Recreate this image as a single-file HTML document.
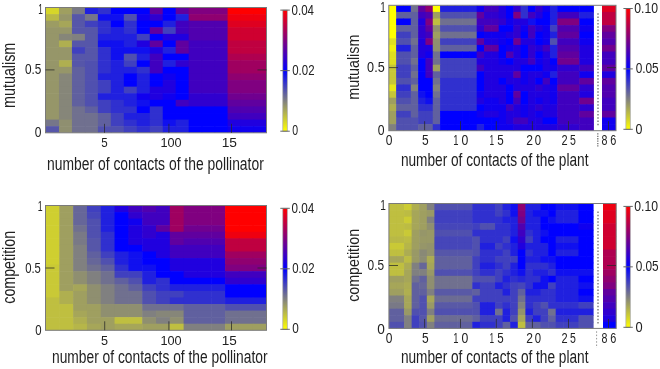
<!DOCTYPE html>
<html><head><meta charset="utf-8"><style>
html,body{margin:0;padding:0;background:#fff;width:660px;height:369px;overflow:hidden}
svg{display:block;will-change:transform}
text{font-family:"Liberation Sans",sans-serif}
</style></head><body>
<svg width="660" height="369" viewBox="0 0 660 369">
<defs><linearGradient id="cb" x1="0" y1="1" x2="0" y2="0">
<stop offset="0" stop-color="#ffff00"/><stop offset="0.5" stop-color="#0000ff"/><stop offset="1" stop-color="#ff0000"/>
</linearGradient></defs>
<rect width="660" height="369" fill="#fff"/>
<clipPath id="hc1"><rect x="46.00" y="7.50" width="220.50" height="125.30"/></clipPath><g clip-path="url(#hc1)">
<rect x="46.00" y="7.50" width="13.57" height="7.19" fill="#d6d629" />
<rect x="58.97" y="7.50" width="13.57" height="7.19" fill="#9f9f60" />
<rect x="71.94" y="7.50" width="13.57" height="7.19" fill="#797986" />
<rect x="84.91" y="7.50" width="13.57" height="7.19" fill="#2020df" />
<rect x="97.88" y="7.50" width="13.57" height="7.19" fill="#3030cf" />
<rect x="110.85" y="7.50" width="13.57" height="7.19" fill="#0000ff" />
<rect x="123.82" y="7.50" width="13.57" height="7.19" fill="#0000ff" />
<rect x="136.79" y="7.50" width="13.57" height="7.19" fill="#0000ff" />
<rect x="149.76" y="7.50" width="13.57" height="7.19" fill="#60009f" />
<rect x="162.74" y="7.50" width="13.57" height="7.19" fill="#0000ff" />
<rect x="175.71" y="7.50" width="13.57" height="7.19" fill="#60009f" />
<rect x="188.68" y="7.50" width="13.57" height="7.19" fill="#800080" />
<rect x="201.65" y="7.50" width="13.57" height="7.19" fill="#800080" />
<rect x="214.62" y="7.50" width="13.57" height="7.19" fill="#800080" />
<rect x="227.59" y="7.50" width="13.57" height="7.19" fill="#ff0000" />
<rect x="240.56" y="7.50" width="13.57" height="7.19" fill="#ff0000" />
<rect x="253.53" y="7.50" width="13.57" height="7.19" fill="#ff0000" />
<rect x="46.00" y="14.09" width="13.57" height="7.19" fill="#b9b946" />
<rect x="58.97" y="14.09" width="13.57" height="7.19" fill="#969669" />
<rect x="71.94" y="14.09" width="13.57" height="7.19" fill="#5656a9" />
<rect x="84.91" y="14.09" width="13.57" height="7.19" fill="#767689" />
<rect x="97.88" y="14.09" width="13.57" height="7.19" fill="#1010ef" />
<rect x="110.85" y="14.09" width="13.57" height="7.19" fill="#1010ef" />
<rect x="123.82" y="14.09" width="13.57" height="7.19" fill="#5050af" />
<rect x="136.79" y="14.09" width="13.57" height="7.19" fill="#1000ef" />
<rect x="149.76" y="14.09" width="13.57" height="7.19" fill="#3000cf" />
<rect x="162.74" y="14.09" width="13.57" height="7.19" fill="#0000ff" />
<rect x="175.71" y="14.09" width="13.57" height="7.19" fill="#2020df" />
<rect x="188.68" y="14.09" width="13.57" height="7.19" fill="#8f0070" />
<rect x="201.65" y="14.09" width="13.57" height="7.19" fill="#8f0070" />
<rect x="214.62" y="14.09" width="13.57" height="7.19" fill="#8f0070" />
<rect x="227.59" y="14.09" width="13.57" height="7.19" fill="#ef0010" />
<rect x="240.56" y="14.09" width="13.57" height="7.19" fill="#ef0010" />
<rect x="253.53" y="14.09" width="13.57" height="7.19" fill="#ef0010" />
<rect x="46.00" y="20.69" width="13.57" height="7.19" fill="#9c9c63" />
<rect x="58.97" y="20.69" width="13.57" height="7.19" fill="#a6a659" />
<rect x="71.94" y="20.69" width="13.57" height="7.19" fill="#5656a9" />
<rect x="84.91" y="20.69" width="13.57" height="7.19" fill="#4040bf" />
<rect x="97.88" y="20.69" width="13.57" height="7.19" fill="#3030cf" />
<rect x="110.85" y="20.69" width="13.57" height="7.19" fill="#0000ff" />
<rect x="123.82" y="20.69" width="13.57" height="7.19" fill="#3030cf" />
<rect x="136.79" y="20.69" width="13.57" height="7.19" fill="#0000ff" />
<rect x="149.76" y="20.69" width="13.57" height="7.19" fill="#0000ff" />
<rect x="162.74" y="20.69" width="13.57" height="7.19" fill="#2020df" />
<rect x="175.71" y="20.69" width="13.57" height="7.19" fill="#4000bf" />
<rect x="188.68" y="20.69" width="13.57" height="7.19" fill="#5000af" />
<rect x="201.65" y="20.69" width="13.57" height="7.19" fill="#5000af" />
<rect x="214.62" y="20.69" width="13.57" height="7.19" fill="#5000af" />
<rect x="227.59" y="20.69" width="13.57" height="7.19" fill="#df0020" />
<rect x="240.56" y="20.69" width="13.57" height="7.19" fill="#df0020" />
<rect x="253.53" y="20.69" width="13.57" height="7.19" fill="#df0020" />
<rect x="46.00" y="27.28" width="13.57" height="7.19" fill="#969669" />
<rect x="58.97" y="27.28" width="13.57" height="7.19" fill="#969669" />
<rect x="71.94" y="27.28" width="13.57" height="7.19" fill="#5656a9" />
<rect x="84.91" y="27.28" width="13.57" height="7.19" fill="#5656a9" />
<rect x="97.88" y="27.28" width="13.57" height="7.19" fill="#3030cf" />
<rect x="110.85" y="27.28" width="13.57" height="7.19" fill="#2020df" />
<rect x="123.82" y="27.28" width="13.57" height="7.19" fill="#3030cf" />
<rect x="136.79" y="27.28" width="13.57" height="7.19" fill="#0000ff" />
<rect x="149.76" y="27.28" width="13.57" height="7.19" fill="#60009f" />
<rect x="162.74" y="27.28" width="13.57" height="7.19" fill="#4040bf" />
<rect x="175.71" y="27.28" width="13.57" height="7.19" fill="#4000bf" />
<rect x="188.68" y="27.28" width="13.57" height="7.19" fill="#5000af" />
<rect x="201.65" y="27.28" width="13.57" height="7.19" fill="#5000af" />
<rect x="214.62" y="27.28" width="13.57" height="7.19" fill="#5000af" />
<rect x="227.59" y="27.28" width="13.57" height="7.19" fill="#cf0030" />
<rect x="240.56" y="27.28" width="13.57" height="7.19" fill="#cf0030" />
<rect x="253.53" y="27.28" width="13.57" height="7.19" fill="#cf0030" />
<rect x="46.00" y="33.88" width="13.57" height="7.19" fill="#969669" />
<rect x="58.97" y="33.88" width="13.57" height="7.19" fill="#868679" />
<rect x="71.94" y="33.88" width="13.57" height="7.19" fill="#808080" />
<rect x="84.91" y="33.88" width="13.57" height="7.19" fill="#5656a9" />
<rect x="97.88" y="33.88" width="13.57" height="7.19" fill="#2020df" />
<rect x="110.85" y="33.88" width="13.57" height="7.19" fill="#2020df" />
<rect x="123.82" y="33.88" width="13.57" height="7.19" fill="#2020df" />
<rect x="136.79" y="33.88" width="13.57" height="7.19" fill="#4040bf" />
<rect x="149.76" y="33.88" width="13.57" height="7.19" fill="#0000ff" />
<rect x="162.74" y="33.88" width="13.57" height="7.19" fill="#2000df" />
<rect x="175.71" y="33.88" width="13.57" height="7.19" fill="#2000df" />
<rect x="188.68" y="33.88" width="13.57" height="7.19" fill="#5000af" />
<rect x="201.65" y="33.88" width="13.57" height="7.19" fill="#5000af" />
<rect x="214.62" y="33.88" width="13.57" height="7.19" fill="#5000af" />
<rect x="227.59" y="33.88" width="13.57" height="7.19" fill="#cf0030" />
<rect x="240.56" y="33.88" width="13.57" height="7.19" fill="#cf0030" />
<rect x="253.53" y="33.88" width="13.57" height="7.19" fill="#cf0030" />
<rect x="46.00" y="40.47" width="13.57" height="7.19" fill="#969669" />
<rect x="58.97" y="40.47" width="13.57" height="7.19" fill="#afaf50" />
<rect x="71.94" y="40.47" width="13.57" height="7.19" fill="#5656a9" />
<rect x="84.91" y="40.47" width="13.57" height="7.19" fill="#5656a9" />
<rect x="97.88" y="40.47" width="13.57" height="7.19" fill="#1010ef" />
<rect x="110.85" y="40.47" width="13.57" height="7.19" fill="#1010ef" />
<rect x="123.82" y="40.47" width="13.57" height="7.19" fill="#2020df" />
<rect x="136.79" y="40.47" width="13.57" height="7.19" fill="#2000df" />
<rect x="149.76" y="40.47" width="13.57" height="7.19" fill="#60009f" />
<rect x="162.74" y="40.47" width="13.57" height="7.19" fill="#0000ff" />
<rect x="175.71" y="40.47" width="13.57" height="7.19" fill="#60009f" />
<rect x="188.68" y="40.47" width="13.57" height="7.19" fill="#4000bf" />
<rect x="201.65" y="40.47" width="13.57" height="7.19" fill="#4000bf" />
<rect x="214.62" y="40.47" width="13.57" height="7.19" fill="#4000bf" />
<rect x="227.59" y="40.47" width="13.57" height="7.19" fill="#bf0040" />
<rect x="240.56" y="40.47" width="13.57" height="7.19" fill="#bf0040" />
<rect x="253.53" y="40.47" width="13.57" height="7.19" fill="#bf0040" />
<rect x="46.00" y="47.07" width="13.57" height="7.19" fill="#969669" />
<rect x="58.97" y="47.07" width="13.57" height="7.19" fill="#969669" />
<rect x="71.94" y="47.07" width="13.57" height="7.19" fill="#4040bf" />
<rect x="84.91" y="47.07" width="13.57" height="7.19" fill="#5656a9" />
<rect x="97.88" y="47.07" width="13.57" height="7.19" fill="#3030cf" />
<rect x="110.85" y="47.07" width="13.57" height="7.19" fill="#1010ef" />
<rect x="123.82" y="47.07" width="13.57" height="7.19" fill="#1010ef" />
<rect x="136.79" y="47.07" width="13.57" height="7.19" fill="#1010ef" />
<rect x="149.76" y="47.07" width="13.57" height="7.19" fill="#2000df" />
<rect x="162.74" y="47.07" width="13.57" height="7.19" fill="#2020df" />
<rect x="175.71" y="47.07" width="13.57" height="7.19" fill="#60009f" />
<rect x="188.68" y="47.07" width="13.57" height="7.19" fill="#4000bf" />
<rect x="201.65" y="47.07" width="13.57" height="7.19" fill="#4000bf" />
<rect x="214.62" y="47.07" width="13.57" height="7.19" fill="#4000bf" />
<rect x="227.59" y="47.07" width="13.57" height="7.19" fill="#bf0040" />
<rect x="240.56" y="47.07" width="13.57" height="7.19" fill="#bf0040" />
<rect x="253.53" y="47.07" width="13.57" height="7.19" fill="#bf0040" />
<rect x="46.00" y="53.66" width="13.57" height="7.19" fill="#969669" />
<rect x="58.97" y="53.66" width="13.57" height="7.19" fill="#969669" />
<rect x="71.94" y="53.66" width="13.57" height="7.19" fill="#5656a9" />
<rect x="84.91" y="53.66" width="13.57" height="7.19" fill="#5656a9" />
<rect x="97.88" y="53.66" width="13.57" height="7.19" fill="#3030cf" />
<rect x="110.85" y="53.66" width="13.57" height="7.19" fill="#1010ef" />
<rect x="123.82" y="53.66" width="13.57" height="7.19" fill="#5050af" />
<rect x="136.79" y="53.66" width="13.57" height="7.19" fill="#2020df" />
<rect x="149.76" y="53.66" width="13.57" height="7.19" fill="#4000bf" />
<rect x="162.74" y="53.66" width="13.57" height="7.19" fill="#0000ff" />
<rect x="175.71" y="53.66" width="13.57" height="7.19" fill="#0000ff" />
<rect x="188.68" y="53.66" width="13.57" height="7.19" fill="#4000bf" />
<rect x="201.65" y="53.66" width="13.57" height="7.19" fill="#4000bf" />
<rect x="214.62" y="53.66" width="13.57" height="7.19" fill="#4000bf" />
<rect x="227.59" y="53.66" width="13.57" height="7.19" fill="#af0050" />
<rect x="240.56" y="53.66" width="13.57" height="7.19" fill="#af0050" />
<rect x="253.53" y="53.66" width="13.57" height="7.19" fill="#af0050" />
<rect x="46.00" y="60.26" width="13.57" height="7.19" fill="#969669" />
<rect x="58.97" y="60.26" width="13.57" height="7.19" fill="#afaf50" />
<rect x="71.94" y="60.26" width="13.57" height="7.19" fill="#5656a9" />
<rect x="84.91" y="60.26" width="13.57" height="7.19" fill="#5050af" />
<rect x="97.88" y="60.26" width="13.57" height="7.19" fill="#3030cf" />
<rect x="110.85" y="60.26" width="13.57" height="7.19" fill="#2020df" />
<rect x="123.82" y="60.26" width="13.57" height="7.19" fill="#4040bf" />
<rect x="136.79" y="60.26" width="13.57" height="7.19" fill="#0000ff" />
<rect x="149.76" y="60.26" width="13.57" height="7.19" fill="#4000bf" />
<rect x="162.74" y="60.26" width="13.57" height="7.19" fill="#2020df" />
<rect x="175.71" y="60.26" width="13.57" height="7.19" fill="#3000cf" />
<rect x="188.68" y="60.26" width="13.57" height="7.19" fill="#4000bf" />
<rect x="201.65" y="60.26" width="13.57" height="7.19" fill="#4000bf" />
<rect x="214.62" y="60.26" width="13.57" height="7.19" fill="#4000bf" />
<rect x="227.59" y="60.26" width="13.57" height="7.19" fill="#9f0060" />
<rect x="240.56" y="60.26" width="13.57" height="7.19" fill="#9f0060" />
<rect x="253.53" y="60.26" width="13.57" height="7.19" fill="#9f0060" />
<rect x="46.00" y="66.85" width="13.57" height="7.19" fill="#969669" />
<rect x="58.97" y="66.85" width="13.57" height="7.19" fill="#969669" />
<rect x="71.94" y="66.85" width="13.57" height="7.19" fill="#60609f" />
<rect x="84.91" y="66.85" width="13.57" height="7.19" fill="#5050af" />
<rect x="97.88" y="66.85" width="13.57" height="7.19" fill="#3030cf" />
<rect x="110.85" y="66.85" width="13.57" height="7.19" fill="#2020df" />
<rect x="123.82" y="66.85" width="13.57" height="7.19" fill="#2020df" />
<rect x="136.79" y="66.85" width="13.57" height="7.19" fill="#3030cf" />
<rect x="149.76" y="66.85" width="13.57" height="7.19" fill="#4000bf" />
<rect x="162.74" y="66.85" width="13.57" height="7.19" fill="#0000ff" />
<rect x="175.71" y="66.85" width="13.57" height="7.19" fill="#0000ff" />
<rect x="188.68" y="66.85" width="13.57" height="7.19" fill="#4000bf" />
<rect x="201.65" y="66.85" width="13.57" height="7.19" fill="#4000bf" />
<rect x="214.62" y="66.85" width="13.57" height="7.19" fill="#4000bf" />
<rect x="227.59" y="66.85" width="13.57" height="7.19" fill="#9f0060" />
<rect x="240.56" y="66.85" width="13.57" height="7.19" fill="#9f0060" />
<rect x="253.53" y="66.85" width="13.57" height="7.19" fill="#9f0060" />
<rect x="46.00" y="73.45" width="13.57" height="7.19" fill="#969669" />
<rect x="58.97" y="73.45" width="13.57" height="7.19" fill="#868679" />
<rect x="71.94" y="73.45" width="13.57" height="7.19" fill="#60609f" />
<rect x="84.91" y="73.45" width="13.57" height="7.19" fill="#5050af" />
<rect x="97.88" y="73.45" width="13.57" height="7.19" fill="#2020df" />
<rect x="110.85" y="73.45" width="13.57" height="7.19" fill="#2020df" />
<rect x="123.82" y="73.45" width="13.57" height="7.19" fill="#0000ff" />
<rect x="136.79" y="73.45" width="13.57" height="7.19" fill="#2020df" />
<rect x="149.76" y="73.45" width="13.57" height="7.19" fill="#0000ff" />
<rect x="162.74" y="73.45" width="13.57" height="7.19" fill="#1000ef" />
<rect x="175.71" y="73.45" width="13.57" height="7.19" fill="#0000ff" />
<rect x="188.68" y="73.45" width="13.57" height="7.19" fill="#4000bf" />
<rect x="201.65" y="73.45" width="13.57" height="7.19" fill="#4000bf" />
<rect x="214.62" y="73.45" width="13.57" height="7.19" fill="#4000bf" />
<rect x="227.59" y="73.45" width="13.57" height="7.19" fill="#8f0070" />
<rect x="240.56" y="73.45" width="13.57" height="7.19" fill="#8f0070" />
<rect x="253.53" y="73.45" width="13.57" height="7.19" fill="#8f0070" />
<rect x="46.00" y="80.04" width="13.57" height="7.19" fill="#969669" />
<rect x="58.97" y="80.04" width="13.57" height="7.19" fill="#868679" />
<rect x="71.94" y="80.04" width="13.57" height="7.19" fill="#60609f" />
<rect x="84.91" y="80.04" width="13.57" height="7.19" fill="#5050af" />
<rect x="97.88" y="80.04" width="13.57" height="7.19" fill="#4040bf" />
<rect x="110.85" y="80.04" width="13.57" height="7.19" fill="#2020df" />
<rect x="123.82" y="80.04" width="13.57" height="7.19" fill="#0000ff" />
<rect x="136.79" y="80.04" width="13.57" height="7.19" fill="#2020df" />
<rect x="149.76" y="80.04" width="13.57" height="7.19" fill="#0000ff" />
<rect x="162.74" y="80.04" width="13.57" height="7.19" fill="#2000df" />
<rect x="175.71" y="80.04" width="13.57" height="7.19" fill="#0000ff" />
<rect x="188.68" y="80.04" width="13.57" height="7.19" fill="#4000bf" />
<rect x="201.65" y="80.04" width="13.57" height="7.19" fill="#4000bf" />
<rect x="214.62" y="80.04" width="13.57" height="7.19" fill="#4000bf" />
<rect x="227.59" y="80.04" width="13.57" height="7.19" fill="#800080" />
<rect x="240.56" y="80.04" width="13.57" height="7.19" fill="#800080" />
<rect x="253.53" y="80.04" width="13.57" height="7.19" fill="#800080" />
<rect x="46.00" y="86.64" width="13.57" height="7.19" fill="#969669" />
<rect x="58.97" y="86.64" width="13.57" height="7.19" fill="#868679" />
<rect x="71.94" y="86.64" width="13.57" height="7.19" fill="#60609f" />
<rect x="84.91" y="86.64" width="13.57" height="7.19" fill="#5050af" />
<rect x="97.88" y="86.64" width="13.57" height="7.19" fill="#4040bf" />
<rect x="110.85" y="86.64" width="13.57" height="7.19" fill="#2020df" />
<rect x="123.82" y="86.64" width="13.57" height="7.19" fill="#4040bf" />
<rect x="136.79" y="86.64" width="13.57" height="7.19" fill="#2020df" />
<rect x="149.76" y="86.64" width="13.57" height="7.19" fill="#2000df" />
<rect x="162.74" y="86.64" width="13.57" height="7.19" fill="#2000df" />
<rect x="175.71" y="86.64" width="13.57" height="7.19" fill="#0000ff" />
<rect x="188.68" y="86.64" width="13.57" height="7.19" fill="#4000bf" />
<rect x="201.65" y="86.64" width="13.57" height="7.19" fill="#4000bf" />
<rect x="214.62" y="86.64" width="13.57" height="7.19" fill="#4000bf" />
<rect x="227.59" y="86.64" width="13.57" height="7.19" fill="#800080" />
<rect x="240.56" y="86.64" width="13.57" height="7.19" fill="#800080" />
<rect x="253.53" y="86.64" width="13.57" height="7.19" fill="#800080" />
<rect x="46.00" y="93.23" width="13.57" height="7.19" fill="#969669" />
<rect x="58.97" y="93.23" width="13.57" height="7.19" fill="#868679" />
<rect x="71.94" y="93.23" width="13.57" height="7.19" fill="#60609f" />
<rect x="84.91" y="93.23" width="13.57" height="7.19" fill="#5050af" />
<rect x="97.88" y="93.23" width="13.57" height="7.19" fill="#2020df" />
<rect x="110.85" y="93.23" width="13.57" height="7.19" fill="#2020df" />
<rect x="123.82" y="93.23" width="13.57" height="7.19" fill="#2020df" />
<rect x="136.79" y="93.23" width="13.57" height="7.19" fill="#1000ef" />
<rect x="149.76" y="93.23" width="13.57" height="7.19" fill="#2000df" />
<rect x="162.74" y="93.23" width="13.57" height="7.19" fill="#1000ef" />
<rect x="175.71" y="93.23" width="13.57" height="7.19" fill="#0000ff" />
<rect x="188.68" y="93.23" width="13.57" height="7.19" fill="#3000cf" />
<rect x="201.65" y="93.23" width="13.57" height="7.19" fill="#3000cf" />
<rect x="214.62" y="93.23" width="13.57" height="7.19" fill="#3000cf" />
<rect x="227.59" y="93.23" width="13.57" height="7.19" fill="#70008f" />
<rect x="240.56" y="93.23" width="13.57" height="7.19" fill="#70008f" />
<rect x="253.53" y="93.23" width="13.57" height="7.19" fill="#70008f" />
<rect x="46.00" y="99.83" width="13.57" height="7.19" fill="#969669" />
<rect x="58.97" y="99.83" width="13.57" height="7.19" fill="#868679" />
<rect x="71.94" y="99.83" width="13.57" height="7.19" fill="#60609f" />
<rect x="84.91" y="99.83" width="13.57" height="7.19" fill="#5050af" />
<rect x="97.88" y="99.83" width="13.57" height="7.19" fill="#4040bf" />
<rect x="110.85" y="99.83" width="13.57" height="7.19" fill="#3030cf" />
<rect x="123.82" y="99.83" width="13.57" height="7.19" fill="#2020df" />
<rect x="136.79" y="99.83" width="13.57" height="7.19" fill="#1010ef" />
<rect x="149.76" y="99.83" width="13.57" height="7.19" fill="#0000ff" />
<rect x="162.74" y="99.83" width="13.57" height="7.19" fill="#0000ff" />
<rect x="175.71" y="99.83" width="13.57" height="7.19" fill="#4000bf" />
<rect x="188.68" y="99.83" width="13.57" height="7.19" fill="#3000cf" />
<rect x="201.65" y="99.83" width="13.57" height="7.19" fill="#3000cf" />
<rect x="214.62" y="99.83" width="13.57" height="7.19" fill="#3000cf" />
<rect x="227.59" y="99.83" width="13.57" height="7.19" fill="#60009f" />
<rect x="240.56" y="99.83" width="13.57" height="7.19" fill="#60009f" />
<rect x="253.53" y="99.83" width="13.57" height="7.19" fill="#60009f" />
<rect x="46.00" y="106.42" width="13.57" height="7.19" fill="#969669" />
<rect x="58.97" y="106.42" width="13.57" height="7.19" fill="#868679" />
<rect x="71.94" y="106.42" width="13.57" height="7.19" fill="#70708f" />
<rect x="84.91" y="106.42" width="13.57" height="7.19" fill="#60609f" />
<rect x="97.88" y="106.42" width="13.57" height="7.19" fill="#4040bf" />
<rect x="110.85" y="106.42" width="13.57" height="7.19" fill="#3030cf" />
<rect x="123.82" y="106.42" width="13.57" height="7.19" fill="#3030cf" />
<rect x="136.79" y="106.42" width="13.57" height="7.19" fill="#0000ff" />
<rect x="149.76" y="106.42" width="13.57" height="7.19" fill="#3030cf" />
<rect x="162.74" y="106.42" width="13.57" height="7.19" fill="#0000ff" />
<rect x="175.71" y="106.42" width="13.57" height="7.19" fill="#0000ff" />
<rect x="188.68" y="106.42" width="13.57" height="7.19" fill="#0000ff" />
<rect x="201.65" y="106.42" width="13.57" height="7.19" fill="#0000ff" />
<rect x="214.62" y="106.42" width="13.57" height="7.19" fill="#0000ff" />
<rect x="227.59" y="106.42" width="13.57" height="7.19" fill="#5000af" />
<rect x="240.56" y="106.42" width="13.57" height="7.19" fill="#5000af" />
<rect x="253.53" y="106.42" width="13.57" height="7.19" fill="#5000af" />
<rect x="46.00" y="113.02" width="13.57" height="7.19" fill="#969669" />
<rect x="58.97" y="113.02" width="13.57" height="7.19" fill="#868679" />
<rect x="71.94" y="113.02" width="13.57" height="7.19" fill="#70708f" />
<rect x="84.91" y="113.02" width="13.57" height="7.19" fill="#70708f" />
<rect x="97.88" y="113.02" width="13.57" height="7.19" fill="#60609f" />
<rect x="110.85" y="113.02" width="13.57" height="7.19" fill="#4040bf" />
<rect x="123.82" y="113.02" width="13.57" height="7.19" fill="#2020df" />
<rect x="136.79" y="113.02" width="13.57" height="7.19" fill="#2020df" />
<rect x="149.76" y="113.02" width="13.57" height="7.19" fill="#3030cf" />
<rect x="162.74" y="113.02" width="13.57" height="7.19" fill="#0000ff" />
<rect x="175.71" y="113.02" width="13.57" height="7.19" fill="#0000ff" />
<rect x="188.68" y="113.02" width="13.57" height="7.19" fill="#0000ff" />
<rect x="201.65" y="113.02" width="13.57" height="7.19" fill="#0000ff" />
<rect x="214.62" y="113.02" width="13.57" height="7.19" fill="#0000ff" />
<rect x="227.59" y="113.02" width="13.57" height="7.19" fill="#4000bf" />
<rect x="240.56" y="113.02" width="13.57" height="7.19" fill="#4000bf" />
<rect x="253.53" y="113.02" width="13.57" height="7.19" fill="#4000bf" />
<rect x="46.00" y="119.61" width="13.57" height="7.19" fill="#767689" />
<rect x="58.97" y="119.61" width="13.57" height="7.19" fill="#8f8f70" />
<rect x="71.94" y="119.61" width="13.57" height="7.19" fill="#70708f" />
<rect x="84.91" y="119.61" width="13.57" height="7.19" fill="#70708f" />
<rect x="97.88" y="119.61" width="13.57" height="7.19" fill="#60609f" />
<rect x="110.85" y="119.61" width="13.57" height="7.19" fill="#4040bf" />
<rect x="123.82" y="119.61" width="13.57" height="7.19" fill="#3030cf" />
<rect x="136.79" y="119.61" width="13.57" height="7.19" fill="#2020df" />
<rect x="149.76" y="119.61" width="13.57" height="7.19" fill="#3030cf" />
<rect x="162.74" y="119.61" width="13.57" height="7.19" fill="#1010ef" />
<rect x="175.71" y="119.61" width="13.57" height="7.19" fill="#2020df" />
<rect x="188.68" y="119.61" width="13.57" height="7.19" fill="#0000ff" />
<rect x="201.65" y="119.61" width="13.57" height="7.19" fill="#0000ff" />
<rect x="214.62" y="119.61" width="13.57" height="7.19" fill="#0000ff" />
<rect x="227.59" y="119.61" width="13.57" height="7.19" fill="#2000df" />
<rect x="240.56" y="119.61" width="13.57" height="7.19" fill="#2000df" />
<rect x="253.53" y="119.61" width="13.57" height="7.19" fill="#2000df" />
<rect x="46.00" y="126.21" width="13.57" height="7.19" fill="#5656a9" />
<rect x="58.97" y="126.21" width="13.57" height="7.19" fill="#8f8f70" />
<rect x="71.94" y="126.21" width="13.57" height="7.19" fill="#70708f" />
<rect x="84.91" y="126.21" width="13.57" height="7.19" fill="#70708f" />
<rect x="97.88" y="126.21" width="13.57" height="7.19" fill="#5050af" />
<rect x="110.85" y="126.21" width="13.57" height="7.19" fill="#5050af" />
<rect x="123.82" y="126.21" width="13.57" height="7.19" fill="#4040bf" />
<rect x="136.79" y="126.21" width="13.57" height="7.19" fill="#3030cf" />
<rect x="149.76" y="126.21" width="13.57" height="7.19" fill="#4040bf" />
<rect x="162.74" y="126.21" width="13.57" height="7.19" fill="#2020df" />
<rect x="175.71" y="126.21" width="13.57" height="7.19" fill="#2020df" />
<rect x="188.68" y="126.21" width="13.57" height="7.19" fill="#0000ff" />
<rect x="201.65" y="126.21" width="13.57" height="7.19" fill="#0000ff" />
<rect x="214.62" y="126.21" width="13.57" height="7.19" fill="#0000ff" />
<rect x="227.59" y="126.21" width="13.57" height="7.19" fill="#1000ef" />
<rect x="240.56" y="126.21" width="13.57" height="7.19" fill="#1000ef" />
<rect x="253.53" y="126.21" width="13.57" height="7.19" fill="#1000ef" />
</g>
<rect x="45.50" y="7.50" width="221.00" height="125.30" fill="none" stroke="#7a7a7a" stroke-width="1"/>
<clipPath id="hc2"><rect x="45.50" y="205.50" width="221.00" height="124.80"/></clipPath><g clip-path="url(#hc2)">
<rect x="45.50" y="205.50" width="14.41" height="7.17" fill="#cfcf30" />
<rect x="59.31" y="205.50" width="14.41" height="7.17" fill="#9f9f60" />
<rect x="73.12" y="205.50" width="14.41" height="7.17" fill="#666699" />
<rect x="86.94" y="205.50" width="14.41" height="7.17" fill="#4040bf" />
<rect x="100.75" y="205.50" width="14.41" height="7.17" fill="#2020df" />
<rect x="114.56" y="205.50" width="14.41" height="7.17" fill="#2000df" />
<rect x="128.38" y="205.50" width="14.41" height="7.17" fill="#4000bf" />
<rect x="142.19" y="205.50" width="14.41" height="7.17" fill="#5000af" />
<rect x="156.00" y="205.50" width="14.41" height="7.17" fill="#4000bf" />
<rect x="169.81" y="205.50" width="14.41" height="7.17" fill="#9f0060" />
<rect x="183.62" y="205.50" width="14.41" height="7.17" fill="#800080" />
<rect x="197.44" y="205.50" width="14.41" height="7.17" fill="#800080" />
<rect x="211.25" y="205.50" width="14.41" height="7.17" fill="#800080" />
<rect x="225.06" y="205.50" width="14.41" height="7.17" fill="#ff0000" />
<rect x="238.88" y="205.50" width="14.41" height="7.17" fill="#ff0000" />
<rect x="252.69" y="205.50" width="14.41" height="7.17" fill="#ff0000" />
<rect x="45.50" y="212.07" width="14.41" height="7.17" fill="#cfcf30" />
<rect x="59.31" y="212.07" width="14.41" height="7.17" fill="#9f9f60" />
<rect x="73.12" y="212.07" width="14.41" height="7.17" fill="#666699" />
<rect x="86.94" y="212.07" width="14.41" height="7.17" fill="#4646b9" />
<rect x="100.75" y="212.07" width="14.41" height="7.17" fill="#2020df" />
<rect x="114.56" y="212.07" width="14.41" height="7.17" fill="#0000ff" />
<rect x="128.38" y="212.07" width="14.41" height="7.17" fill="#3000cf" />
<rect x="142.19" y="212.07" width="14.41" height="7.17" fill="#4000bf" />
<rect x="156.00" y="212.07" width="14.41" height="7.17" fill="#4000bf" />
<rect x="169.81" y="212.07" width="14.41" height="7.17" fill="#9f0060" />
<rect x="183.62" y="212.07" width="14.41" height="7.17" fill="#800080" />
<rect x="197.44" y="212.07" width="14.41" height="7.17" fill="#800080" />
<rect x="211.25" y="212.07" width="14.41" height="7.17" fill="#800080" />
<rect x="225.06" y="212.07" width="14.41" height="7.17" fill="#ff0000" />
<rect x="238.88" y="212.07" width="14.41" height="7.17" fill="#ff0000" />
<rect x="252.69" y="212.07" width="14.41" height="7.17" fill="#ff0000" />
<rect x="45.50" y="218.64" width="14.41" height="7.17" fill="#cfcf30" />
<rect x="59.31" y="218.64" width="14.41" height="7.17" fill="#9f9f60" />
<rect x="73.12" y="218.64" width="14.41" height="7.17" fill="#666699" />
<rect x="86.94" y="218.64" width="14.41" height="7.17" fill="#5050af" />
<rect x="100.75" y="218.64" width="14.41" height="7.17" fill="#2020df" />
<rect x="114.56" y="218.64" width="14.41" height="7.17" fill="#0000ff" />
<rect x="128.38" y="218.64" width="14.41" height="7.17" fill="#1000ef" />
<rect x="142.19" y="218.64" width="14.41" height="7.17" fill="#4000bf" />
<rect x="156.00" y="218.64" width="14.41" height="7.17" fill="#4000bf" />
<rect x="169.81" y="218.64" width="14.41" height="7.17" fill="#9f0060" />
<rect x="183.62" y="218.64" width="14.41" height="7.17" fill="#800080" />
<rect x="197.44" y="218.64" width="14.41" height="7.17" fill="#800080" />
<rect x="211.25" y="218.64" width="14.41" height="7.17" fill="#800080" />
<rect x="225.06" y="218.64" width="14.41" height="7.17" fill="#ff0000" />
<rect x="238.88" y="218.64" width="14.41" height="7.17" fill="#ff0000" />
<rect x="252.69" y="218.64" width="14.41" height="7.17" fill="#ff0000" />
<rect x="45.50" y="225.21" width="14.41" height="7.17" fill="#cfcf30" />
<rect x="59.31" y="225.21" width="14.41" height="7.17" fill="#9f9f60" />
<rect x="73.12" y="225.21" width="14.41" height="7.17" fill="#70708f" />
<rect x="86.94" y="225.21" width="14.41" height="7.17" fill="#5050af" />
<rect x="100.75" y="225.21" width="14.41" height="7.17" fill="#2020df" />
<rect x="114.56" y="225.21" width="14.41" height="7.17" fill="#0000ff" />
<rect x="128.38" y="225.21" width="14.41" height="7.17" fill="#2000df" />
<rect x="142.19" y="225.21" width="14.41" height="7.17" fill="#3000cf" />
<rect x="156.00" y="225.21" width="14.41" height="7.17" fill="#60009f" />
<rect x="169.81" y="225.21" width="14.41" height="7.17" fill="#9f0060" />
<rect x="183.62" y="225.21" width="14.41" height="7.17" fill="#70008f" />
<rect x="197.44" y="225.21" width="14.41" height="7.17" fill="#70008f" />
<rect x="211.25" y="225.21" width="14.41" height="7.17" fill="#70008f" />
<rect x="225.06" y="225.21" width="14.41" height="7.17" fill="#ff0000" />
<rect x="238.88" y="225.21" width="14.41" height="7.17" fill="#ff0000" />
<rect x="252.69" y="225.21" width="14.41" height="7.17" fill="#ff0000" />
<rect x="45.50" y="231.77" width="14.41" height="7.17" fill="#cfcf30" />
<rect x="59.31" y="231.77" width="14.41" height="7.17" fill="#9f9f60" />
<rect x="73.12" y="231.77" width="14.41" height="7.17" fill="#797986" />
<rect x="86.94" y="231.77" width="14.41" height="7.17" fill="#5050af" />
<rect x="100.75" y="231.77" width="14.41" height="7.17" fill="#3030cf" />
<rect x="114.56" y="231.77" width="14.41" height="7.17" fill="#0000ff" />
<rect x="128.38" y="231.77" width="14.41" height="7.17" fill="#2000df" />
<rect x="142.19" y="231.77" width="14.41" height="7.17" fill="#3000cf" />
<rect x="156.00" y="231.77" width="14.41" height="7.17" fill="#2000df" />
<rect x="169.81" y="231.77" width="14.41" height="7.17" fill="#60009f" />
<rect x="183.62" y="231.77" width="14.41" height="7.17" fill="#60009f" />
<rect x="197.44" y="231.77" width="14.41" height="7.17" fill="#60009f" />
<rect x="211.25" y="231.77" width="14.41" height="7.17" fill="#60009f" />
<rect x="225.06" y="231.77" width="14.41" height="7.17" fill="#ef0010" />
<rect x="238.88" y="231.77" width="14.41" height="7.17" fill="#ef0010" />
<rect x="252.69" y="231.77" width="14.41" height="7.17" fill="#ef0010" />
<rect x="45.50" y="238.34" width="14.41" height="7.17" fill="#cfcf30" />
<rect x="59.31" y="238.34" width="14.41" height="7.17" fill="#9f9f60" />
<rect x="73.12" y="238.34" width="14.41" height="7.17" fill="#797986" />
<rect x="86.94" y="238.34" width="14.41" height="7.17" fill="#5656a9" />
<rect x="100.75" y="238.34" width="14.41" height="7.17" fill="#3030cf" />
<rect x="114.56" y="238.34" width="14.41" height="7.17" fill="#0000ff" />
<rect x="128.38" y="238.34" width="14.41" height="7.17" fill="#2000df" />
<rect x="142.19" y="238.34" width="14.41" height="7.17" fill="#2000df" />
<rect x="156.00" y="238.34" width="14.41" height="7.17" fill="#2000df" />
<rect x="169.81" y="238.34" width="14.41" height="7.17" fill="#60009f" />
<rect x="183.62" y="238.34" width="14.41" height="7.17" fill="#5000af" />
<rect x="197.44" y="238.34" width="14.41" height="7.17" fill="#5000af" />
<rect x="211.25" y="238.34" width="14.41" height="7.17" fill="#5000af" />
<rect x="225.06" y="238.34" width="14.41" height="7.17" fill="#bf0040" />
<rect x="238.88" y="238.34" width="14.41" height="7.17" fill="#bf0040" />
<rect x="252.69" y="238.34" width="14.41" height="7.17" fill="#bf0040" />
<rect x="45.50" y="244.91" width="14.41" height="7.17" fill="#cfcf30" />
<rect x="59.31" y="244.91" width="14.41" height="7.17" fill="#9f9f60" />
<rect x="73.12" y="244.91" width="14.41" height="7.17" fill="#808080" />
<rect x="86.94" y="244.91" width="14.41" height="7.17" fill="#5656a9" />
<rect x="100.75" y="244.91" width="14.41" height="7.17" fill="#3030cf" />
<rect x="114.56" y="244.91" width="14.41" height="7.17" fill="#0000ff" />
<rect x="128.38" y="244.91" width="14.41" height="7.17" fill="#0000ff" />
<rect x="142.19" y="244.91" width="14.41" height="7.17" fill="#2000df" />
<rect x="156.00" y="244.91" width="14.41" height="7.17" fill="#2000df" />
<rect x="169.81" y="244.91" width="14.41" height="7.17" fill="#4000bf" />
<rect x="183.62" y="244.91" width="14.41" height="7.17" fill="#4000bf" />
<rect x="197.44" y="244.91" width="14.41" height="7.17" fill="#4000bf" />
<rect x="211.25" y="244.91" width="14.41" height="7.17" fill="#4000bf" />
<rect x="225.06" y="244.91" width="14.41" height="7.17" fill="#bf0040" />
<rect x="238.88" y="244.91" width="14.41" height="7.17" fill="#bf0040" />
<rect x="252.69" y="244.91" width="14.41" height="7.17" fill="#bf0040" />
<rect x="45.50" y="251.48" width="14.41" height="7.17" fill="#cfcf30" />
<rect x="59.31" y="251.48" width="14.41" height="7.17" fill="#9f9f60" />
<rect x="73.12" y="251.48" width="14.41" height="7.17" fill="#808080" />
<rect x="86.94" y="251.48" width="14.41" height="7.17" fill="#60609f" />
<rect x="100.75" y="251.48" width="14.41" height="7.17" fill="#4040bf" />
<rect x="114.56" y="251.48" width="14.41" height="7.17" fill="#2020df" />
<rect x="128.38" y="251.48" width="14.41" height="7.17" fill="#1010ef" />
<rect x="142.19" y="251.48" width="14.41" height="7.17" fill="#0000ff" />
<rect x="156.00" y="251.48" width="14.41" height="7.17" fill="#2000df" />
<rect x="169.81" y="251.48" width="14.41" height="7.17" fill="#4000bf" />
<rect x="183.62" y="251.48" width="14.41" height="7.17" fill="#4000bf" />
<rect x="197.44" y="251.48" width="14.41" height="7.17" fill="#4000bf" />
<rect x="211.25" y="251.48" width="14.41" height="7.17" fill="#4000bf" />
<rect x="225.06" y="251.48" width="14.41" height="7.17" fill="#9f0060" />
<rect x="238.88" y="251.48" width="14.41" height="7.17" fill="#9f0060" />
<rect x="252.69" y="251.48" width="14.41" height="7.17" fill="#9f0060" />
<rect x="45.50" y="258.05" width="14.41" height="7.17" fill="#cfcf30" />
<rect x="59.31" y="258.05" width="14.41" height="7.17" fill="#9f9f60" />
<rect x="73.12" y="258.05" width="14.41" height="7.17" fill="#808080" />
<rect x="86.94" y="258.05" width="14.41" height="7.17" fill="#666699" />
<rect x="100.75" y="258.05" width="14.41" height="7.17" fill="#5050af" />
<rect x="114.56" y="258.05" width="14.41" height="7.17" fill="#2020df" />
<rect x="128.38" y="258.05" width="14.41" height="7.17" fill="#1010ef" />
<rect x="142.19" y="258.05" width="14.41" height="7.17" fill="#0000ff" />
<rect x="156.00" y="258.05" width="14.41" height="7.17" fill="#0000ff" />
<rect x="169.81" y="258.05" width="14.41" height="7.17" fill="#2000df" />
<rect x="183.62" y="258.05" width="14.41" height="7.17" fill="#2000df" />
<rect x="197.44" y="258.05" width="14.41" height="7.17" fill="#2000df" />
<rect x="211.25" y="258.05" width="14.41" height="7.17" fill="#2000df" />
<rect x="225.06" y="258.05" width="14.41" height="7.17" fill="#8f0070" />
<rect x="238.88" y="258.05" width="14.41" height="7.17" fill="#8f0070" />
<rect x="252.69" y="258.05" width="14.41" height="7.17" fill="#8f0070" />
<rect x="45.50" y="264.62" width="14.41" height="7.17" fill="#c9c936" />
<rect x="59.31" y="264.62" width="14.41" height="7.17" fill="#9f9f60" />
<rect x="73.12" y="264.62" width="14.41" height="7.17" fill="#808080" />
<rect x="86.94" y="264.62" width="14.41" height="7.17" fill="#70708f" />
<rect x="100.75" y="264.62" width="14.41" height="7.17" fill="#60609f" />
<rect x="114.56" y="264.62" width="14.41" height="7.17" fill="#3030cf" />
<rect x="128.38" y="264.62" width="14.41" height="7.17" fill="#1010ef" />
<rect x="142.19" y="264.62" width="14.41" height="7.17" fill="#1010ef" />
<rect x="156.00" y="264.62" width="14.41" height="7.17" fill="#0000ff" />
<rect x="169.81" y="264.62" width="14.41" height="7.17" fill="#2000df" />
<rect x="183.62" y="264.62" width="14.41" height="7.17" fill="#2000df" />
<rect x="197.44" y="264.62" width="14.41" height="7.17" fill="#2000df" />
<rect x="211.25" y="264.62" width="14.41" height="7.17" fill="#2000df" />
<rect x="225.06" y="264.62" width="14.41" height="7.17" fill="#800080" />
<rect x="238.88" y="264.62" width="14.41" height="7.17" fill="#800080" />
<rect x="252.69" y="264.62" width="14.41" height="7.17" fill="#800080" />
<rect x="45.50" y="271.18" width="14.41" height="7.17" fill="#c9c936" />
<rect x="59.31" y="271.18" width="14.41" height="7.17" fill="#9f9f60" />
<rect x="73.12" y="271.18" width="14.41" height="7.17" fill="#8f8f70" />
<rect x="86.94" y="271.18" width="14.41" height="7.17" fill="#808080" />
<rect x="100.75" y="271.18" width="14.41" height="7.17" fill="#70708f" />
<rect x="114.56" y="271.18" width="14.41" height="7.17" fill="#4040bf" />
<rect x="128.38" y="271.18" width="14.41" height="7.17" fill="#4040bf" />
<rect x="142.19" y="271.18" width="14.41" height="7.17" fill="#2020df" />
<rect x="156.00" y="271.18" width="14.41" height="7.17" fill="#0000ff" />
<rect x="169.81" y="271.18" width="14.41" height="7.17" fill="#0000ff" />
<rect x="183.62" y="271.18" width="14.41" height="7.17" fill="#2000df" />
<rect x="197.44" y="271.18" width="14.41" height="7.17" fill="#2000df" />
<rect x="211.25" y="271.18" width="14.41" height="7.17" fill="#2000df" />
<rect x="225.06" y="271.18" width="14.41" height="7.17" fill="#4000bf" />
<rect x="238.88" y="271.18" width="14.41" height="7.17" fill="#4000bf" />
<rect x="252.69" y="271.18" width="14.41" height="7.17" fill="#4000bf" />
<rect x="45.50" y="277.75" width="14.41" height="7.17" fill="#c9c936" />
<rect x="59.31" y="277.75" width="14.41" height="7.17" fill="#9f9f60" />
<rect x="73.12" y="277.75" width="14.41" height="7.17" fill="#8f8f70" />
<rect x="86.94" y="277.75" width="14.41" height="7.17" fill="#808080" />
<rect x="100.75" y="277.75" width="14.41" height="7.17" fill="#70708f" />
<rect x="114.56" y="277.75" width="14.41" height="7.17" fill="#60609f" />
<rect x="128.38" y="277.75" width="14.41" height="7.17" fill="#5050af" />
<rect x="142.19" y="277.75" width="14.41" height="7.17" fill="#2020df" />
<rect x="156.00" y="277.75" width="14.41" height="7.17" fill="#3030cf" />
<rect x="169.81" y="277.75" width="14.41" height="7.17" fill="#0000ff" />
<rect x="183.62" y="277.75" width="14.41" height="7.17" fill="#0000ff" />
<rect x="197.44" y="277.75" width="14.41" height="7.17" fill="#0000ff" />
<rect x="211.25" y="277.75" width="14.41" height="7.17" fill="#0000ff" />
<rect x="225.06" y="277.75" width="14.41" height="7.17" fill="#3000cf" />
<rect x="238.88" y="277.75" width="14.41" height="7.17" fill="#3000cf" />
<rect x="252.69" y="277.75" width="14.41" height="7.17" fill="#3000cf" />
<rect x="45.50" y="284.32" width="14.41" height="7.17" fill="#c9c936" />
<rect x="59.31" y="284.32" width="14.41" height="7.17" fill="#9f9f60" />
<rect x="73.12" y="284.32" width="14.41" height="7.17" fill="#a6a659" />
<rect x="86.94" y="284.32" width="14.41" height="7.17" fill="#8f8f70" />
<rect x="100.75" y="284.32" width="14.41" height="7.17" fill="#808080" />
<rect x="114.56" y="284.32" width="14.41" height="7.17" fill="#70708f" />
<rect x="128.38" y="284.32" width="14.41" height="7.17" fill="#60609f" />
<rect x="142.19" y="284.32" width="14.41" height="7.17" fill="#4040bf" />
<rect x="156.00" y="284.32" width="14.41" height="7.17" fill="#3030cf" />
<rect x="169.81" y="284.32" width="14.41" height="7.17" fill="#2020df" />
<rect x="183.62" y="284.32" width="14.41" height="7.17" fill="#2020df" />
<rect x="197.44" y="284.32" width="14.41" height="7.17" fill="#2020df" />
<rect x="211.25" y="284.32" width="14.41" height="7.17" fill="#2020df" />
<rect x="225.06" y="284.32" width="14.41" height="7.17" fill="#0000ff" />
<rect x="238.88" y="284.32" width="14.41" height="7.17" fill="#0000ff" />
<rect x="252.69" y="284.32" width="14.41" height="7.17" fill="#0000ff" />
<rect x="45.50" y="290.89" width="14.41" height="7.17" fill="#c9c936" />
<rect x="59.31" y="290.89" width="14.41" height="7.17" fill="#afaf50" />
<rect x="73.12" y="290.89" width="14.41" height="7.17" fill="#9f9f60" />
<rect x="86.94" y="290.89" width="14.41" height="7.17" fill="#8f8f70" />
<rect x="100.75" y="290.89" width="14.41" height="7.17" fill="#808080" />
<rect x="114.56" y="290.89" width="14.41" height="7.17" fill="#70708f" />
<rect x="128.38" y="290.89" width="14.41" height="7.17" fill="#70708f" />
<rect x="142.19" y="290.89" width="14.41" height="7.17" fill="#5050af" />
<rect x="156.00" y="290.89" width="14.41" height="7.17" fill="#4040bf" />
<rect x="169.81" y="290.89" width="14.41" height="7.17" fill="#4040bf" />
<rect x="183.62" y="290.89" width="14.41" height="7.17" fill="#3030cf" />
<rect x="197.44" y="290.89" width="14.41" height="7.17" fill="#3030cf" />
<rect x="211.25" y="290.89" width="14.41" height="7.17" fill="#3030cf" />
<rect x="225.06" y="290.89" width="14.41" height="7.17" fill="#0000ff" />
<rect x="238.88" y="290.89" width="14.41" height="7.17" fill="#0000ff" />
<rect x="252.69" y="290.89" width="14.41" height="7.17" fill="#0000ff" />
<rect x="45.50" y="297.46" width="14.41" height="7.17" fill="#bfbf40" />
<rect x="59.31" y="297.46" width="14.41" height="7.17" fill="#afaf50" />
<rect x="73.12" y="297.46" width="14.41" height="7.17" fill="#9f9f60" />
<rect x="86.94" y="297.46" width="14.41" height="7.17" fill="#8f8f70" />
<rect x="100.75" y="297.46" width="14.41" height="7.17" fill="#808080" />
<rect x="114.56" y="297.46" width="14.41" height="7.17" fill="#70708f" />
<rect x="128.38" y="297.46" width="14.41" height="7.17" fill="#70708f" />
<rect x="142.19" y="297.46" width="14.41" height="7.17" fill="#5050af" />
<rect x="156.00" y="297.46" width="14.41" height="7.17" fill="#4040bf" />
<rect x="169.81" y="297.46" width="14.41" height="7.17" fill="#3030cf" />
<rect x="183.62" y="297.46" width="14.41" height="7.17" fill="#3030cf" />
<rect x="197.44" y="297.46" width="14.41" height="7.17" fill="#3030cf" />
<rect x="211.25" y="297.46" width="14.41" height="7.17" fill="#3030cf" />
<rect x="225.06" y="297.46" width="14.41" height="7.17" fill="#2020df" />
<rect x="238.88" y="297.46" width="14.41" height="7.17" fill="#2020df" />
<rect x="252.69" y="297.46" width="14.41" height="7.17" fill="#2020df" />
<rect x="45.50" y="304.03" width="14.41" height="7.17" fill="#bfbf40" />
<rect x="59.31" y="304.03" width="14.41" height="7.17" fill="#bfbf40" />
<rect x="73.12" y="304.03" width="14.41" height="7.17" fill="#9f9f60" />
<rect x="86.94" y="304.03" width="14.41" height="7.17" fill="#9f9f60" />
<rect x="100.75" y="304.03" width="14.41" height="7.17" fill="#8f8f70" />
<rect x="114.56" y="304.03" width="14.41" height="7.17" fill="#8f8f70" />
<rect x="128.38" y="304.03" width="14.41" height="7.17" fill="#8f8f70" />
<rect x="142.19" y="304.03" width="14.41" height="7.17" fill="#70708f" />
<rect x="156.00" y="304.03" width="14.41" height="7.17" fill="#70708f" />
<rect x="169.81" y="304.03" width="14.41" height="7.17" fill="#70708f" />
<rect x="183.62" y="304.03" width="14.41" height="7.17" fill="#60609f" />
<rect x="197.44" y="304.03" width="14.41" height="7.17" fill="#60609f" />
<rect x="211.25" y="304.03" width="14.41" height="7.17" fill="#60609f" />
<rect x="225.06" y="304.03" width="14.41" height="7.17" fill="#5050af" />
<rect x="238.88" y="304.03" width="14.41" height="7.17" fill="#5050af" />
<rect x="252.69" y="304.03" width="14.41" height="7.17" fill="#5050af" />
<rect x="45.50" y="310.59" width="14.41" height="7.17" fill="#bfbf40" />
<rect x="59.31" y="310.59" width="14.41" height="7.17" fill="#bfbf40" />
<rect x="73.12" y="310.59" width="14.41" height="7.17" fill="#a6a659" />
<rect x="86.94" y="310.59" width="14.41" height="7.17" fill="#9f9f60" />
<rect x="100.75" y="310.59" width="14.41" height="7.17" fill="#8f8f70" />
<rect x="114.56" y="310.59" width="14.41" height="7.17" fill="#8f8f70" />
<rect x="128.38" y="310.59" width="14.41" height="7.17" fill="#8f8f70" />
<rect x="142.19" y="310.59" width="14.41" height="7.17" fill="#808080" />
<rect x="156.00" y="310.59" width="14.41" height="7.17" fill="#868679" />
<rect x="169.81" y="310.59" width="14.41" height="7.17" fill="#868679" />
<rect x="183.62" y="310.59" width="14.41" height="7.17" fill="#60609f" />
<rect x="197.44" y="310.59" width="14.41" height="7.17" fill="#60609f" />
<rect x="211.25" y="310.59" width="14.41" height="7.17" fill="#60609f" />
<rect x="225.06" y="310.59" width="14.41" height="7.17" fill="#70708f" />
<rect x="238.88" y="310.59" width="14.41" height="7.17" fill="#70708f" />
<rect x="252.69" y="310.59" width="14.41" height="7.17" fill="#70708f" />
<rect x="45.50" y="317.16" width="14.41" height="7.17" fill="#bfbf40" />
<rect x="59.31" y="317.16" width="14.41" height="7.17" fill="#bfbf40" />
<rect x="73.12" y="317.16" width="14.41" height="7.17" fill="#afaf50" />
<rect x="86.94" y="317.16" width="14.41" height="7.17" fill="#9f9f60" />
<rect x="100.75" y="317.16" width="14.41" height="7.17" fill="#9f9f60" />
<rect x="114.56" y="317.16" width="14.41" height="7.17" fill="#bfbf40" />
<rect x="128.38" y="317.16" width="14.41" height="7.17" fill="#bfbf40" />
<rect x="142.19" y="317.16" width="14.41" height="7.17" fill="#8f8f70" />
<rect x="156.00" y="317.16" width="14.41" height="7.17" fill="#808080" />
<rect x="169.81" y="317.16" width="14.41" height="7.17" fill="#8f8f70" />
<rect x="183.62" y="317.16" width="14.41" height="7.17" fill="#60609f" />
<rect x="197.44" y="317.16" width="14.41" height="7.17" fill="#60609f" />
<rect x="211.25" y="317.16" width="14.41" height="7.17" fill="#60609f" />
<rect x="225.06" y="317.16" width="14.41" height="7.17" fill="#70708f" />
<rect x="238.88" y="317.16" width="14.41" height="7.17" fill="#70708f" />
<rect x="252.69" y="317.16" width="14.41" height="7.17" fill="#70708f" />
<rect x="45.50" y="323.73" width="14.41" height="7.17" fill="#bfbf40" />
<rect x="59.31" y="323.73" width="14.41" height="7.17" fill="#bfbf40" />
<rect x="73.12" y="323.73" width="14.41" height="7.17" fill="#b6b649" />
<rect x="86.94" y="323.73" width="14.41" height="7.17" fill="#a6a659" />
<rect x="100.75" y="323.73" width="14.41" height="7.17" fill="#9f9f60" />
<rect x="114.56" y="323.73" width="14.41" height="7.17" fill="#a6a659" />
<rect x="128.38" y="323.73" width="14.41" height="7.17" fill="#a6a659" />
<rect x="142.19" y="323.73" width="14.41" height="7.17" fill="#9f9f60" />
<rect x="156.00" y="323.73" width="14.41" height="7.17" fill="#9f9f60" />
<rect x="169.81" y="323.73" width="14.41" height="7.17" fill="#bfbf40" />
<rect x="183.62" y="323.73" width="14.41" height="7.17" fill="#808080" />
<rect x="197.44" y="323.73" width="14.41" height="7.17" fill="#808080" />
<rect x="211.25" y="323.73" width="14.41" height="7.17" fill="#808080" />
<rect x="225.06" y="323.73" width="14.41" height="7.17" fill="#9f9f60" />
<rect x="238.88" y="323.73" width="14.41" height="7.17" fill="#9f9f60" />
<rect x="252.69" y="323.73" width="14.41" height="7.17" fill="#9f9f60" />
</g>
<rect x="45.50" y="205.50" width="221.00" height="124.80" fill="none" stroke="#7a7a7a" stroke-width="1"/>
<clipPath id="hc3"><rect x="388.80" y="5.30" width="205.10" height="125.40"/></clipPath><g clip-path="url(#hc3)">
<rect x="388.80" y="5.30" width="7.92" height="7.20" fill="#ffff00" />
<rect x="396.12" y="5.30" width="7.92" height="7.20" fill="#0000ff" />
<rect x="403.45" y="5.30" width="7.93" height="7.20" fill="#0000ff" />
<rect x="410.78" y="5.30" width="7.92" height="7.20" fill="#70708f" />
<rect x="418.10" y="5.30" width="7.92" height="7.20" fill="#60009f" />
<rect x="425.43" y="5.30" width="7.92" height="7.20" fill="#8f0070" />
<rect x="432.75" y="5.30" width="7.92" height="7.20" fill="#ffff00" />
<rect x="440.07" y="5.30" width="7.92" height="7.20" fill="#2020df" />
<rect x="447.40" y="5.30" width="7.93" height="7.20" fill="#2020df" />
<rect x="454.73" y="5.30" width="7.92" height="7.20" fill="#2020df" />
<rect x="462.05" y="5.30" width="7.92" height="7.20" fill="#2020df" />
<rect x="469.38" y="5.30" width="7.92" height="7.20" fill="#2020df" />
<rect x="476.70" y="5.30" width="7.92" height="7.20" fill="#1000ef" />
<rect x="484.02" y="5.30" width="7.93" height="7.20" fill="#4000bf" />
<rect x="491.35" y="5.30" width="7.92" height="7.20" fill="#4000bf" />
<rect x="498.68" y="5.30" width="7.92" height="7.20" fill="#2000df" />
<rect x="506.00" y="5.30" width="7.93" height="7.20" fill="#0000ff" />
<rect x="513.33" y="5.30" width="7.92" height="7.20" fill="#3000cf" />
<rect x="520.65" y="5.30" width="7.93" height="7.20" fill="#3030cf" />
<rect x="527.98" y="5.30" width="7.92" height="7.20" fill="#0000ff" />
<rect x="535.30" y="5.30" width="7.93" height="7.20" fill="#3000cf" />
<rect x="542.62" y="5.30" width="7.92" height="7.20" fill="#1000ef" />
<rect x="549.95" y="5.30" width="7.93" height="7.20" fill="#2020df" />
<rect x="557.27" y="5.30" width="7.93" height="7.20" fill="#0000ff" />
<rect x="564.60" y="5.30" width="7.92" height="7.20" fill="#0000ff" />
<rect x="571.92" y="5.30" width="7.93" height="7.20" fill="#0000ff" />
<rect x="579.25" y="5.30" width="7.92" height="7.20" fill="#0000ff" />
<rect x="586.57" y="5.30" width="7.93" height="7.20" fill="#0000ff" />
<rect x="388.80" y="11.90" width="7.92" height="7.20" fill="#ffff00" />
<rect x="396.12" y="11.90" width="7.92" height="7.20" fill="#60609f" />
<rect x="403.45" y="11.90" width="7.93" height="7.20" fill="#60609f" />
<rect x="410.78" y="11.90" width="7.92" height="7.20" fill="#60609f" />
<rect x="418.10" y="11.90" width="7.92" height="7.20" fill="#4000bf" />
<rect x="425.43" y="11.90" width="7.92" height="7.20" fill="#5000af" />
<rect x="432.75" y="11.90" width="7.92" height="7.20" fill="#9f9f60" />
<rect x="440.07" y="11.90" width="7.92" height="7.20" fill="#5050af" />
<rect x="447.40" y="11.90" width="7.93" height="7.20" fill="#5050af" />
<rect x="454.73" y="11.90" width="7.92" height="7.20" fill="#5050af" />
<rect x="462.05" y="11.90" width="7.92" height="7.20" fill="#5050af" />
<rect x="469.38" y="11.90" width="7.92" height="7.20" fill="#5050af" />
<rect x="476.70" y="11.90" width="7.92" height="7.20" fill="#60009f" />
<rect x="484.02" y="11.90" width="7.93" height="7.20" fill="#3000cf" />
<rect x="491.35" y="11.90" width="7.92" height="7.20" fill="#3000cf" />
<rect x="498.68" y="11.90" width="7.92" height="7.20" fill="#2000df" />
<rect x="506.00" y="11.90" width="7.93" height="7.20" fill="#0000ff" />
<rect x="513.33" y="11.90" width="7.92" height="7.20" fill="#800080" />
<rect x="520.65" y="11.90" width="7.93" height="7.20" fill="#3030cf" />
<rect x="527.98" y="11.90" width="7.92" height="7.20" fill="#4000bf" />
<rect x="535.30" y="11.90" width="7.93" height="7.20" fill="#2000df" />
<rect x="542.62" y="11.90" width="7.92" height="7.20" fill="#0000ff" />
<rect x="549.95" y="11.90" width="7.93" height="7.20" fill="#2020df" />
<rect x="557.27" y="11.90" width="7.93" height="7.20" fill="#4000bf" />
<rect x="564.60" y="11.90" width="7.92" height="7.20" fill="#4000bf" />
<rect x="571.92" y="11.90" width="7.93" height="7.20" fill="#4000bf" />
<rect x="579.25" y="11.90" width="7.92" height="7.20" fill="#2020df" />
<rect x="586.57" y="11.90" width="7.93" height="7.20" fill="#2020df" />
<rect x="388.80" y="18.50" width="7.92" height="7.20" fill="#ffff00" />
<rect x="396.12" y="18.50" width="7.92" height="7.20" fill="#0000ff" />
<rect x="403.45" y="18.50" width="7.93" height="7.20" fill="#0000ff" />
<rect x="410.78" y="18.50" width="7.92" height="7.20" fill="#60609f" />
<rect x="418.10" y="18.50" width="7.92" height="7.20" fill="#2000df" />
<rect x="425.43" y="18.50" width="7.92" height="7.20" fill="#800080" />
<rect x="432.75" y="18.50" width="7.92" height="7.20" fill="#bfbf40" />
<rect x="440.07" y="18.50" width="7.92" height="7.20" fill="#70708f" />
<rect x="447.40" y="18.50" width="7.93" height="7.20" fill="#70708f" />
<rect x="454.73" y="18.50" width="7.92" height="7.20" fill="#70708f" />
<rect x="462.05" y="18.50" width="7.92" height="7.20" fill="#70708f" />
<rect x="469.38" y="18.50" width="7.92" height="7.20" fill="#70708f" />
<rect x="476.70" y="18.50" width="7.92" height="7.20" fill="#4000bf" />
<rect x="484.02" y="18.50" width="7.93" height="7.20" fill="#4000bf" />
<rect x="491.35" y="18.50" width="7.92" height="7.20" fill="#4000bf" />
<rect x="498.68" y="18.50" width="7.92" height="7.20" fill="#3000cf" />
<rect x="506.00" y="18.50" width="7.93" height="7.20" fill="#1000ef" />
<rect x="513.33" y="18.50" width="7.92" height="7.20" fill="#2000df" />
<rect x="520.65" y="18.50" width="7.93" height="7.20" fill="#2000df" />
<rect x="527.98" y="18.50" width="7.92" height="7.20" fill="#1010ef" />
<rect x="535.30" y="18.50" width="7.93" height="7.20" fill="#0000ff" />
<rect x="542.62" y="18.50" width="7.92" height="7.20" fill="#0000ff" />
<rect x="549.95" y="18.50" width="7.93" height="7.20" fill="#2020df" />
<rect x="557.27" y="18.50" width="7.93" height="7.20" fill="#800080" />
<rect x="564.60" y="18.50" width="7.92" height="7.20" fill="#800080" />
<rect x="571.92" y="18.50" width="7.93" height="7.20" fill="#800080" />
<rect x="579.25" y="18.50" width="7.92" height="7.20" fill="#0000ff" />
<rect x="586.57" y="18.50" width="7.93" height="7.20" fill="#0000ff" />
<rect x="388.80" y="25.10" width="7.92" height="7.20" fill="#ffff00" />
<rect x="396.12" y="25.10" width="7.92" height="7.20" fill="#60609f" />
<rect x="403.45" y="25.10" width="7.93" height="7.20" fill="#60609f" />
<rect x="410.78" y="25.10" width="7.92" height="7.20" fill="#60609f" />
<rect x="418.10" y="25.10" width="7.92" height="7.20" fill="#3000cf" />
<rect x="425.43" y="25.10" width="7.92" height="7.20" fill="#60009f" />
<rect x="432.75" y="25.10" width="7.92" height="7.20" fill="#8f8f70" />
<rect x="440.07" y="25.10" width="7.92" height="7.20" fill="#5050af" />
<rect x="447.40" y="25.10" width="7.93" height="7.20" fill="#5050af" />
<rect x="454.73" y="25.10" width="7.92" height="7.20" fill="#5050af" />
<rect x="462.05" y="25.10" width="7.92" height="7.20" fill="#5050af" />
<rect x="469.38" y="25.10" width="7.92" height="7.20" fill="#5050af" />
<rect x="476.70" y="25.10" width="7.92" height="7.20" fill="#3000cf" />
<rect x="484.02" y="25.10" width="7.93" height="7.20" fill="#60009f" />
<rect x="491.35" y="25.10" width="7.92" height="7.20" fill="#60009f" />
<rect x="498.68" y="25.10" width="7.92" height="7.20" fill="#0000ff" />
<rect x="506.00" y="25.10" width="7.93" height="7.20" fill="#0000ff" />
<rect x="513.33" y="25.10" width="7.92" height="7.20" fill="#3000cf" />
<rect x="520.65" y="25.10" width="7.93" height="7.20" fill="#1000ef" />
<rect x="527.98" y="25.10" width="7.92" height="7.20" fill="#4000bf" />
<rect x="535.30" y="25.10" width="7.93" height="7.20" fill="#2000df" />
<rect x="542.62" y="25.10" width="7.92" height="7.20" fill="#1000ef" />
<rect x="549.95" y="25.10" width="7.93" height="7.20" fill="#4040bf" />
<rect x="557.27" y="25.10" width="7.93" height="7.20" fill="#5000af" />
<rect x="564.60" y="25.10" width="7.92" height="7.20" fill="#5000af" />
<rect x="571.92" y="25.10" width="7.93" height="7.20" fill="#5000af" />
<rect x="579.25" y="25.10" width="7.92" height="7.20" fill="#1000ef" />
<rect x="586.57" y="25.10" width="7.93" height="7.20" fill="#1000ef" />
<rect x="388.80" y="31.70" width="7.92" height="7.20" fill="#ffff00" />
<rect x="396.12" y="31.70" width="7.92" height="7.20" fill="#4040bf" />
<rect x="403.45" y="31.70" width="7.93" height="7.20" fill="#4040bf" />
<rect x="410.78" y="31.70" width="7.92" height="7.20" fill="#60609f" />
<rect x="418.10" y="31.70" width="7.92" height="7.20" fill="#3000cf" />
<rect x="425.43" y="31.70" width="7.92" height="7.20" fill="#4000bf" />
<rect x="432.75" y="31.70" width="7.92" height="7.20" fill="#9f9f60" />
<rect x="440.07" y="31.70" width="7.92" height="7.20" fill="#70708f" />
<rect x="447.40" y="31.70" width="7.93" height="7.20" fill="#70708f" />
<rect x="454.73" y="31.70" width="7.92" height="7.20" fill="#70708f" />
<rect x="462.05" y="31.70" width="7.92" height="7.20" fill="#70708f" />
<rect x="469.38" y="31.70" width="7.92" height="7.20" fill="#70708f" />
<rect x="476.70" y="31.70" width="7.92" height="7.20" fill="#0000ff" />
<rect x="484.02" y="31.70" width="7.93" height="7.20" fill="#1000ef" />
<rect x="491.35" y="31.70" width="7.92" height="7.20" fill="#1000ef" />
<rect x="498.68" y="31.70" width="7.92" height="7.20" fill="#1000ef" />
<rect x="506.00" y="31.70" width="7.93" height="7.20" fill="#2000df" />
<rect x="513.33" y="31.70" width="7.92" height="7.20" fill="#3000cf" />
<rect x="520.65" y="31.70" width="7.93" height="7.20" fill="#0000ff" />
<rect x="527.98" y="31.70" width="7.92" height="7.20" fill="#4000bf" />
<rect x="535.30" y="31.70" width="7.93" height="7.20" fill="#0000ff" />
<rect x="542.62" y="31.70" width="7.92" height="7.20" fill="#1000ef" />
<rect x="549.95" y="31.70" width="7.93" height="7.20" fill="#2020df" />
<rect x="557.27" y="31.70" width="7.93" height="7.20" fill="#60009f" />
<rect x="564.60" y="31.70" width="7.92" height="7.20" fill="#60009f" />
<rect x="571.92" y="31.70" width="7.93" height="7.20" fill="#60009f" />
<rect x="579.25" y="31.70" width="7.92" height="7.20" fill="#0000ff" />
<rect x="586.57" y="31.70" width="7.93" height="7.20" fill="#0000ff" />
<rect x="388.80" y="38.30" width="7.92" height="7.20" fill="#dfdf20" />
<rect x="396.12" y="38.30" width="7.92" height="7.20" fill="#5050af" />
<rect x="403.45" y="38.30" width="7.93" height="7.20" fill="#5050af" />
<rect x="410.78" y="38.30" width="7.92" height="7.20" fill="#70708f" />
<rect x="418.10" y="38.30" width="7.92" height="7.20" fill="#2000df" />
<rect x="425.43" y="38.30" width="7.92" height="7.20" fill="#800080" />
<rect x="432.75" y="38.30" width="7.92" height="7.20" fill="#8f8f70" />
<rect x="440.07" y="38.30" width="7.92" height="7.20" fill="#4040bf" />
<rect x="447.40" y="38.30" width="7.93" height="7.20" fill="#4040bf" />
<rect x="454.73" y="38.30" width="7.92" height="7.20" fill="#4040bf" />
<rect x="462.05" y="38.30" width="7.92" height="7.20" fill="#4040bf" />
<rect x="469.38" y="38.30" width="7.92" height="7.20" fill="#4040bf" />
<rect x="476.70" y="38.30" width="7.92" height="7.20" fill="#60009f" />
<rect x="484.02" y="38.30" width="7.93" height="7.20" fill="#2000df" />
<rect x="491.35" y="38.30" width="7.92" height="7.20" fill="#2000df" />
<rect x="498.68" y="38.30" width="7.92" height="7.20" fill="#1000ef" />
<rect x="506.00" y="38.30" width="7.93" height="7.20" fill="#0000ff" />
<rect x="513.33" y="38.30" width="7.92" height="7.20" fill="#70008f" />
<rect x="520.65" y="38.30" width="7.93" height="7.20" fill="#2000df" />
<rect x="527.98" y="38.30" width="7.92" height="7.20" fill="#2000df" />
<rect x="535.30" y="38.30" width="7.93" height="7.20" fill="#0000ff" />
<rect x="542.62" y="38.30" width="7.92" height="7.20" fill="#1000ef" />
<rect x="549.95" y="38.30" width="7.93" height="7.20" fill="#5050af" />
<rect x="557.27" y="38.30" width="7.93" height="7.20" fill="#4000bf" />
<rect x="564.60" y="38.30" width="7.92" height="7.20" fill="#4000bf" />
<rect x="571.92" y="38.30" width="7.93" height="7.20" fill="#4000bf" />
<rect x="579.25" y="38.30" width="7.92" height="7.20" fill="#1000ef" />
<rect x="586.57" y="38.30" width="7.93" height="7.20" fill="#1000ef" />
<rect x="388.80" y="44.90" width="7.92" height="7.20" fill="#efef10" />
<rect x="396.12" y="44.90" width="7.92" height="7.20" fill="#2020df" />
<rect x="403.45" y="44.90" width="7.93" height="7.20" fill="#2020df" />
<rect x="410.78" y="44.90" width="7.92" height="7.20" fill="#60609f" />
<rect x="418.10" y="44.90" width="7.92" height="7.20" fill="#2000df" />
<rect x="425.43" y="44.90" width="7.92" height="7.20" fill="#2000df" />
<rect x="432.75" y="44.90" width="7.92" height="7.20" fill="#8f8f70" />
<rect x="440.07" y="44.90" width="7.92" height="7.20" fill="#60609f" />
<rect x="447.40" y="44.90" width="7.93" height="7.20" fill="#60609f" />
<rect x="454.73" y="44.90" width="7.92" height="7.20" fill="#60609f" />
<rect x="462.05" y="44.90" width="7.92" height="7.20" fill="#60609f" />
<rect x="469.38" y="44.90" width="7.92" height="7.20" fill="#60609f" />
<rect x="476.70" y="44.90" width="7.92" height="7.20" fill="#0000ff" />
<rect x="484.02" y="44.90" width="7.93" height="7.20" fill="#60009f" />
<rect x="491.35" y="44.90" width="7.92" height="7.20" fill="#60009f" />
<rect x="498.68" y="44.90" width="7.92" height="7.20" fill="#0000ff" />
<rect x="506.00" y="44.90" width="7.93" height="7.20" fill="#1000ef" />
<rect x="513.33" y="44.90" width="7.92" height="7.20" fill="#2000df" />
<rect x="520.65" y="44.90" width="7.93" height="7.20" fill="#0000ff" />
<rect x="527.98" y="44.90" width="7.92" height="7.20" fill="#3000cf" />
<rect x="535.30" y="44.90" width="7.93" height="7.20" fill="#2000df" />
<rect x="542.62" y="44.90" width="7.92" height="7.20" fill="#4000bf" />
<rect x="549.95" y="44.90" width="7.93" height="7.20" fill="#2020df" />
<rect x="557.27" y="44.90" width="7.93" height="7.20" fill="#5000af" />
<rect x="564.60" y="44.90" width="7.92" height="7.20" fill="#5000af" />
<rect x="571.92" y="44.90" width="7.93" height="7.20" fill="#5000af" />
<rect x="579.25" y="44.90" width="7.92" height="7.20" fill="#2000df" />
<rect x="586.57" y="44.90" width="7.93" height="7.20" fill="#2000df" />
<rect x="388.80" y="51.50" width="7.92" height="7.20" fill="#dfdf20" />
<rect x="396.12" y="51.50" width="7.92" height="7.20" fill="#5050af" />
<rect x="403.45" y="51.50" width="7.93" height="7.20" fill="#5050af" />
<rect x="410.78" y="51.50" width="7.92" height="7.20" fill="#60609f" />
<rect x="418.10" y="51.50" width="7.92" height="7.20" fill="#2000df" />
<rect x="425.43" y="51.50" width="7.92" height="7.20" fill="#1000ef" />
<rect x="432.75" y="51.50" width="7.92" height="7.20" fill="#70708f" />
<rect x="440.07" y="51.50" width="7.92" height="7.20" fill="#0000ff" />
<rect x="447.40" y="51.50" width="7.93" height="7.20" fill="#0000ff" />
<rect x="454.73" y="51.50" width="7.92" height="7.20" fill="#0000ff" />
<rect x="462.05" y="51.50" width="7.92" height="7.20" fill="#0000ff" />
<rect x="469.38" y="51.50" width="7.92" height="7.20" fill="#0000ff" />
<rect x="476.70" y="51.50" width="7.92" height="7.20" fill="#4000bf" />
<rect x="484.02" y="51.50" width="7.93" height="7.20" fill="#2000df" />
<rect x="491.35" y="51.50" width="7.92" height="7.20" fill="#2000df" />
<rect x="498.68" y="51.50" width="7.92" height="7.20" fill="#0000ff" />
<rect x="506.00" y="51.50" width="7.93" height="7.20" fill="#5000af" />
<rect x="513.33" y="51.50" width="7.92" height="7.20" fill="#2000df" />
<rect x="520.65" y="51.50" width="7.93" height="7.20" fill="#0000ff" />
<rect x="527.98" y="51.50" width="7.92" height="7.20" fill="#3000cf" />
<rect x="535.30" y="51.50" width="7.93" height="7.20" fill="#0000ff" />
<rect x="542.62" y="51.50" width="7.92" height="7.20" fill="#2000df" />
<rect x="549.95" y="51.50" width="7.93" height="7.20" fill="#2020df" />
<rect x="557.27" y="51.50" width="7.93" height="7.20" fill="#60009f" />
<rect x="564.60" y="51.50" width="7.92" height="7.20" fill="#60009f" />
<rect x="571.92" y="51.50" width="7.93" height="7.20" fill="#60009f" />
<rect x="579.25" y="51.50" width="7.92" height="7.20" fill="#2000df" />
<rect x="586.57" y="51.50" width="7.93" height="7.20" fill="#2000df" />
<rect x="388.80" y="58.10" width="7.92" height="7.20" fill="#dfdf20" />
<rect x="396.12" y="58.10" width="7.92" height="7.20" fill="#5050af" />
<rect x="403.45" y="58.10" width="7.93" height="7.20" fill="#5050af" />
<rect x="410.78" y="58.10" width="7.92" height="7.20" fill="#70708f" />
<rect x="418.10" y="58.10" width="7.92" height="7.20" fill="#0000ff" />
<rect x="425.43" y="58.10" width="7.92" height="7.20" fill="#4000bf" />
<rect x="432.75" y="58.10" width="7.92" height="7.20" fill="#70708f" />
<rect x="440.07" y="58.10" width="7.92" height="7.20" fill="#4040bf" />
<rect x="447.40" y="58.10" width="7.93" height="7.20" fill="#4040bf" />
<rect x="454.73" y="58.10" width="7.92" height="7.20" fill="#4040bf" />
<rect x="462.05" y="58.10" width="7.92" height="7.20" fill="#4040bf" />
<rect x="469.38" y="58.10" width="7.92" height="7.20" fill="#4040bf" />
<rect x="476.70" y="58.10" width="7.92" height="7.20" fill="#2000df" />
<rect x="484.02" y="58.10" width="7.93" height="7.20" fill="#2000df" />
<rect x="491.35" y="58.10" width="7.92" height="7.20" fill="#2000df" />
<rect x="498.68" y="58.10" width="7.92" height="7.20" fill="#1000ef" />
<rect x="506.00" y="58.10" width="7.93" height="7.20" fill="#0000ff" />
<rect x="513.33" y="58.10" width="7.92" height="7.20" fill="#2000df" />
<rect x="520.65" y="58.10" width="7.93" height="7.20" fill="#2000df" />
<rect x="527.98" y="58.10" width="7.92" height="7.20" fill="#4000bf" />
<rect x="535.30" y="58.10" width="7.93" height="7.20" fill="#1000ef" />
<rect x="542.62" y="58.10" width="7.92" height="7.20" fill="#2000df" />
<rect x="549.95" y="58.10" width="7.93" height="7.20" fill="#0000ff" />
<rect x="557.27" y="58.10" width="7.93" height="7.20" fill="#70008f" />
<rect x="564.60" y="58.10" width="7.92" height="7.20" fill="#70008f" />
<rect x="571.92" y="58.10" width="7.93" height="7.20" fill="#70008f" />
<rect x="579.25" y="58.10" width="7.92" height="7.20" fill="#2000df" />
<rect x="586.57" y="58.10" width="7.93" height="7.20" fill="#2000df" />
<rect x="388.80" y="64.70" width="7.92" height="7.20" fill="#c6c639" />
<rect x="396.12" y="64.70" width="7.92" height="7.20" fill="#4040bf" />
<rect x="403.45" y="64.70" width="7.93" height="7.20" fill="#4040bf" />
<rect x="410.78" y="64.70" width="7.92" height="7.20" fill="#60609f" />
<rect x="418.10" y="64.70" width="7.92" height="7.20" fill="#0000ff" />
<rect x="425.43" y="64.70" width="7.92" height="7.20" fill="#4000bf" />
<rect x="432.75" y="64.70" width="7.92" height="7.20" fill="#9f9f60" />
<rect x="440.07" y="64.70" width="7.92" height="7.20" fill="#4040bf" />
<rect x="447.40" y="64.70" width="7.93" height="7.20" fill="#4040bf" />
<rect x="454.73" y="64.70" width="7.92" height="7.20" fill="#4040bf" />
<rect x="462.05" y="64.70" width="7.92" height="7.20" fill="#4040bf" />
<rect x="469.38" y="64.70" width="7.92" height="7.20" fill="#4040bf" />
<rect x="476.70" y="64.70" width="7.92" height="7.20" fill="#4000bf" />
<rect x="484.02" y="64.70" width="7.93" height="7.20" fill="#2000df" />
<rect x="491.35" y="64.70" width="7.92" height="7.20" fill="#2000df" />
<rect x="498.68" y="64.70" width="7.92" height="7.20" fill="#2000df" />
<rect x="506.00" y="64.70" width="7.93" height="7.20" fill="#2000df" />
<rect x="513.33" y="64.70" width="7.92" height="7.20" fill="#2000df" />
<rect x="520.65" y="64.70" width="7.93" height="7.20" fill="#0000ff" />
<rect x="527.98" y="64.70" width="7.92" height="7.20" fill="#0000ff" />
<rect x="535.30" y="64.70" width="7.93" height="7.20" fill="#0000ff" />
<rect x="542.62" y="64.70" width="7.92" height="7.20" fill="#2000df" />
<rect x="549.95" y="64.70" width="7.93" height="7.20" fill="#1000ef" />
<rect x="557.27" y="64.70" width="7.93" height="7.20" fill="#3000cf" />
<rect x="564.60" y="64.70" width="7.92" height="7.20" fill="#3000cf" />
<rect x="571.92" y="64.70" width="7.93" height="7.20" fill="#3000cf" />
<rect x="579.25" y="64.70" width="7.92" height="7.20" fill="#4000bf" />
<rect x="586.57" y="64.70" width="7.93" height="7.20" fill="#4000bf" />
<rect x="388.80" y="71.30" width="7.92" height="7.20" fill="#c6c639" />
<rect x="396.12" y="71.30" width="7.92" height="7.20" fill="#4040bf" />
<rect x="403.45" y="71.30" width="7.93" height="7.20" fill="#4040bf" />
<rect x="410.78" y="71.30" width="7.92" height="7.20" fill="#70708f" />
<rect x="418.10" y="71.30" width="7.92" height="7.20" fill="#0000ff" />
<rect x="425.43" y="71.30" width="7.92" height="7.20" fill="#4000bf" />
<rect x="432.75" y="71.30" width="7.92" height="7.20" fill="#60609f" />
<rect x="440.07" y="71.30" width="7.92" height="7.20" fill="#4040bf" />
<rect x="447.40" y="71.30" width="7.93" height="7.20" fill="#4040bf" />
<rect x="454.73" y="71.30" width="7.92" height="7.20" fill="#4040bf" />
<rect x="462.05" y="71.30" width="7.92" height="7.20" fill="#4040bf" />
<rect x="469.38" y="71.30" width="7.92" height="7.20" fill="#4040bf" />
<rect x="476.70" y="71.30" width="7.92" height="7.20" fill="#0000ff" />
<rect x="484.02" y="71.30" width="7.93" height="7.20" fill="#2000df" />
<rect x="491.35" y="71.30" width="7.92" height="7.20" fill="#2000df" />
<rect x="498.68" y="71.30" width="7.92" height="7.20" fill="#2000df" />
<rect x="506.00" y="71.30" width="7.93" height="7.20" fill="#2000df" />
<rect x="513.33" y="71.30" width="7.92" height="7.20" fill="#60009f" />
<rect x="520.65" y="71.30" width="7.93" height="7.20" fill="#1000ef" />
<rect x="527.98" y="71.30" width="7.92" height="7.20" fill="#2000df" />
<rect x="535.30" y="71.30" width="7.93" height="7.20" fill="#2000df" />
<rect x="542.62" y="71.30" width="7.92" height="7.20" fill="#1000ef" />
<rect x="549.95" y="71.30" width="7.93" height="7.20" fill="#2020df" />
<rect x="557.27" y="71.30" width="7.93" height="7.20" fill="#4000bf" />
<rect x="564.60" y="71.30" width="7.92" height="7.20" fill="#4000bf" />
<rect x="571.92" y="71.30" width="7.93" height="7.20" fill="#4000bf" />
<rect x="579.25" y="71.30" width="7.92" height="7.20" fill="#1000ef" />
<rect x="586.57" y="71.30" width="7.93" height="7.20" fill="#1000ef" />
<rect x="388.80" y="77.90" width="7.92" height="7.20" fill="#c6c639" />
<rect x="396.12" y="77.90" width="7.92" height="7.20" fill="#5050af" />
<rect x="403.45" y="77.90" width="7.93" height="7.20" fill="#5050af" />
<rect x="410.78" y="77.90" width="7.92" height="7.20" fill="#60609f" />
<rect x="418.10" y="77.90" width="7.92" height="7.20" fill="#0000ff" />
<rect x="425.43" y="77.90" width="7.92" height="7.20" fill="#0000ff" />
<rect x="432.75" y="77.90" width="7.92" height="7.20" fill="#70708f" />
<rect x="440.07" y="77.90" width="7.92" height="7.20" fill="#3030cf" />
<rect x="447.40" y="77.90" width="7.93" height="7.20" fill="#3030cf" />
<rect x="454.73" y="77.90" width="7.92" height="7.20" fill="#3030cf" />
<rect x="462.05" y="77.90" width="7.92" height="7.20" fill="#3030cf" />
<rect x="469.38" y="77.90" width="7.92" height="7.20" fill="#3030cf" />
<rect x="476.70" y="77.90" width="7.92" height="7.20" fill="#0000ff" />
<rect x="484.02" y="77.90" width="7.93" height="7.20" fill="#2000df" />
<rect x="491.35" y="77.90" width="7.92" height="7.20" fill="#2000df" />
<rect x="498.68" y="77.90" width="7.92" height="7.20" fill="#0000ff" />
<rect x="506.00" y="77.90" width="7.93" height="7.20" fill="#2000df" />
<rect x="513.33" y="77.90" width="7.92" height="7.20" fill="#2000df" />
<rect x="520.65" y="77.90" width="7.93" height="7.20" fill="#1000ef" />
<rect x="527.98" y="77.90" width="7.92" height="7.20" fill="#2000df" />
<rect x="535.30" y="77.90" width="7.93" height="7.20" fill="#0000ff" />
<rect x="542.62" y="77.90" width="7.92" height="7.20" fill="#4000bf" />
<rect x="549.95" y="77.90" width="7.93" height="7.20" fill="#0000ff" />
<rect x="557.27" y="77.90" width="7.93" height="7.20" fill="#4000bf" />
<rect x="564.60" y="77.90" width="7.92" height="7.20" fill="#4000bf" />
<rect x="571.92" y="77.90" width="7.93" height="7.20" fill="#4000bf" />
<rect x="579.25" y="77.90" width="7.92" height="7.20" fill="#60009f" />
<rect x="586.57" y="77.90" width="7.93" height="7.20" fill="#60009f" />
<rect x="388.80" y="84.50" width="7.92" height="7.20" fill="#e6e61a" />
<rect x="396.12" y="84.50" width="7.92" height="7.20" fill="#3030cf" />
<rect x="403.45" y="84.50" width="7.93" height="7.20" fill="#3030cf" />
<rect x="410.78" y="84.50" width="7.92" height="7.20" fill="#808080" />
<rect x="418.10" y="84.50" width="7.92" height="7.20" fill="#0000ff" />
<rect x="425.43" y="84.50" width="7.92" height="7.20" fill="#0000ff" />
<rect x="432.75" y="84.50" width="7.92" height="7.20" fill="#808080" />
<rect x="440.07" y="84.50" width="7.92" height="7.20" fill="#3030cf" />
<rect x="447.40" y="84.50" width="7.93" height="7.20" fill="#3030cf" />
<rect x="454.73" y="84.50" width="7.92" height="7.20" fill="#3030cf" />
<rect x="462.05" y="84.50" width="7.92" height="7.20" fill="#3030cf" />
<rect x="469.38" y="84.50" width="7.92" height="7.20" fill="#3030cf" />
<rect x="476.70" y="84.50" width="7.92" height="7.20" fill="#0000ff" />
<rect x="484.02" y="84.50" width="7.93" height="7.20" fill="#2000df" />
<rect x="491.35" y="84.50" width="7.92" height="7.20" fill="#2000df" />
<rect x="498.68" y="84.50" width="7.92" height="7.20" fill="#2000df" />
<rect x="506.00" y="84.50" width="7.93" height="7.20" fill="#0000ff" />
<rect x="513.33" y="84.50" width="7.92" height="7.20" fill="#2000df" />
<rect x="520.65" y="84.50" width="7.93" height="7.20" fill="#2000df" />
<rect x="527.98" y="84.50" width="7.92" height="7.20" fill="#2000df" />
<rect x="535.30" y="84.50" width="7.93" height="7.20" fill="#3000cf" />
<rect x="542.62" y="84.50" width="7.92" height="7.20" fill="#2000df" />
<rect x="549.95" y="84.50" width="7.93" height="7.20" fill="#1000ef" />
<rect x="557.27" y="84.50" width="7.93" height="7.20" fill="#60009f" />
<rect x="564.60" y="84.50" width="7.92" height="7.20" fill="#60009f" />
<rect x="571.92" y="84.50" width="7.93" height="7.20" fill="#60009f" />
<rect x="579.25" y="84.50" width="7.92" height="7.20" fill="#3000cf" />
<rect x="586.57" y="84.50" width="7.93" height="7.20" fill="#3000cf" />
<rect x="388.80" y="91.10" width="7.92" height="7.20" fill="#c6c639" />
<rect x="396.12" y="91.10" width="7.92" height="7.20" fill="#4040bf" />
<rect x="403.45" y="91.10" width="7.93" height="7.20" fill="#4040bf" />
<rect x="410.78" y="91.10" width="7.92" height="7.20" fill="#60609f" />
<rect x="418.10" y="91.10" width="7.92" height="7.20" fill="#1010ef" />
<rect x="425.43" y="91.10" width="7.92" height="7.20" fill="#0000ff" />
<rect x="432.75" y="91.10" width="7.92" height="7.20" fill="#70708f" />
<rect x="440.07" y="91.10" width="7.92" height="7.20" fill="#3030cf" />
<rect x="447.40" y="91.10" width="7.93" height="7.20" fill="#3030cf" />
<rect x="454.73" y="91.10" width="7.92" height="7.20" fill="#3030cf" />
<rect x="462.05" y="91.10" width="7.92" height="7.20" fill="#3030cf" />
<rect x="469.38" y="91.10" width="7.92" height="7.20" fill="#3030cf" />
<rect x="476.70" y="91.10" width="7.92" height="7.20" fill="#1000ef" />
<rect x="484.02" y="91.10" width="7.93" height="7.20" fill="#2000df" />
<rect x="491.35" y="91.10" width="7.92" height="7.20" fill="#2000df" />
<rect x="498.68" y="91.10" width="7.92" height="7.20" fill="#2000df" />
<rect x="506.00" y="91.10" width="7.93" height="7.20" fill="#0000ff" />
<rect x="513.33" y="91.10" width="7.92" height="7.20" fill="#60009f" />
<rect x="520.65" y="91.10" width="7.93" height="7.20" fill="#0000ff" />
<rect x="527.98" y="91.10" width="7.92" height="7.20" fill="#2000df" />
<rect x="535.30" y="91.10" width="7.93" height="7.20" fill="#2000df" />
<rect x="542.62" y="91.10" width="7.92" height="7.20" fill="#2000df" />
<rect x="549.95" y="91.10" width="7.93" height="7.20" fill="#1000ef" />
<rect x="557.27" y="91.10" width="7.93" height="7.20" fill="#4000bf" />
<rect x="564.60" y="91.10" width="7.92" height="7.20" fill="#4000bf" />
<rect x="571.92" y="91.10" width="7.93" height="7.20" fill="#4000bf" />
<rect x="579.25" y="91.10" width="7.92" height="7.20" fill="#2000df" />
<rect x="586.57" y="91.10" width="7.93" height="7.20" fill="#2000df" />
<rect x="388.80" y="97.70" width="7.92" height="7.20" fill="#9f9f60" />
<rect x="396.12" y="97.70" width="7.92" height="7.20" fill="#5050af" />
<rect x="403.45" y="97.70" width="7.93" height="7.20" fill="#5050af" />
<rect x="410.78" y="97.70" width="7.92" height="7.20" fill="#60609f" />
<rect x="418.10" y="97.70" width="7.92" height="7.20" fill="#2020df" />
<rect x="425.43" y="97.70" width="7.92" height="7.20" fill="#1010ef" />
<rect x="432.75" y="97.70" width="7.92" height="7.20" fill="#60609f" />
<rect x="440.07" y="97.70" width="7.92" height="7.20" fill="#3030cf" />
<rect x="447.40" y="97.70" width="7.93" height="7.20" fill="#3030cf" />
<rect x="454.73" y="97.70" width="7.92" height="7.20" fill="#3030cf" />
<rect x="462.05" y="97.70" width="7.92" height="7.20" fill="#3030cf" />
<rect x="469.38" y="97.70" width="7.92" height="7.20" fill="#3030cf" />
<rect x="476.70" y="97.70" width="7.92" height="7.20" fill="#2000df" />
<rect x="484.02" y="97.70" width="7.93" height="7.20" fill="#1000ef" />
<rect x="491.35" y="97.70" width="7.92" height="7.20" fill="#1000ef" />
<rect x="498.68" y="97.70" width="7.92" height="7.20" fill="#2000df" />
<rect x="506.00" y="97.70" width="7.93" height="7.20" fill="#0000ff" />
<rect x="513.33" y="97.70" width="7.92" height="7.20" fill="#4000bf" />
<rect x="520.65" y="97.70" width="7.93" height="7.20" fill="#0000ff" />
<rect x="527.98" y="97.70" width="7.92" height="7.20" fill="#2000df" />
<rect x="535.30" y="97.70" width="7.93" height="7.20" fill="#1000ef" />
<rect x="542.62" y="97.70" width="7.92" height="7.20" fill="#2000df" />
<rect x="549.95" y="97.70" width="7.93" height="7.20" fill="#1000ef" />
<rect x="557.27" y="97.70" width="7.93" height="7.20" fill="#4000bf" />
<rect x="564.60" y="97.70" width="7.92" height="7.20" fill="#4000bf" />
<rect x="571.92" y="97.70" width="7.93" height="7.20" fill="#4000bf" />
<rect x="579.25" y="97.70" width="7.92" height="7.20" fill="#70008f" />
<rect x="586.57" y="97.70" width="7.93" height="7.20" fill="#70008f" />
<rect x="388.80" y="104.30" width="7.92" height="7.20" fill="#afaf50" />
<rect x="396.12" y="104.30" width="7.92" height="7.20" fill="#60609f" />
<rect x="403.45" y="104.30" width="7.93" height="7.20" fill="#60609f" />
<rect x="410.78" y="104.30" width="7.92" height="7.20" fill="#60609f" />
<rect x="418.10" y="104.30" width="7.92" height="7.20" fill="#3030cf" />
<rect x="425.43" y="104.30" width="7.92" height="7.20" fill="#3030cf" />
<rect x="432.75" y="104.30" width="7.92" height="7.20" fill="#60609f" />
<rect x="440.07" y="104.30" width="7.92" height="7.20" fill="#3030cf" />
<rect x="447.40" y="104.30" width="7.93" height="7.20" fill="#3030cf" />
<rect x="454.73" y="104.30" width="7.92" height="7.20" fill="#3030cf" />
<rect x="462.05" y="104.30" width="7.92" height="7.20" fill="#3030cf" />
<rect x="469.38" y="104.30" width="7.92" height="7.20" fill="#3030cf" />
<rect x="476.70" y="104.30" width="7.92" height="7.20" fill="#0000ff" />
<rect x="484.02" y="104.30" width="7.93" height="7.20" fill="#1000ef" />
<rect x="491.35" y="104.30" width="7.92" height="7.20" fill="#1000ef" />
<rect x="498.68" y="104.30" width="7.92" height="7.20" fill="#1000ef" />
<rect x="506.00" y="104.30" width="7.93" height="7.20" fill="#4000bf" />
<rect x="513.33" y="104.30" width="7.92" height="7.20" fill="#2000df" />
<rect x="520.65" y="104.30" width="7.93" height="7.20" fill="#1000ef" />
<rect x="527.98" y="104.30" width="7.92" height="7.20" fill="#2000df" />
<rect x="535.30" y="104.30" width="7.93" height="7.20" fill="#3000cf" />
<rect x="542.62" y="104.30" width="7.92" height="7.20" fill="#2000df" />
<rect x="549.95" y="104.30" width="7.93" height="7.20" fill="#2000df" />
<rect x="557.27" y="104.30" width="7.93" height="7.20" fill="#4000bf" />
<rect x="564.60" y="104.30" width="7.92" height="7.20" fill="#4000bf" />
<rect x="571.92" y="104.30" width="7.93" height="7.20" fill="#4000bf" />
<rect x="579.25" y="104.30" width="7.92" height="7.20" fill="#3000cf" />
<rect x="586.57" y="104.30" width="7.93" height="7.20" fill="#3000cf" />
<rect x="388.80" y="110.90" width="7.92" height="7.20" fill="#9f9f60" />
<rect x="396.12" y="110.90" width="7.92" height="7.20" fill="#4040bf" />
<rect x="403.45" y="110.90" width="7.93" height="7.20" fill="#4040bf" />
<rect x="410.78" y="110.90" width="7.92" height="7.20" fill="#60609f" />
<rect x="418.10" y="110.90" width="7.92" height="7.20" fill="#4040bf" />
<rect x="425.43" y="110.90" width="7.92" height="7.20" fill="#4040bf" />
<rect x="432.75" y="110.90" width="7.92" height="7.20" fill="#60609f" />
<rect x="440.07" y="110.90" width="7.92" height="7.20" fill="#0000ff" />
<rect x="447.40" y="110.90" width="7.93" height="7.20" fill="#0000ff" />
<rect x="454.73" y="110.90" width="7.92" height="7.20" fill="#0000ff" />
<rect x="462.05" y="110.90" width="7.92" height="7.20" fill="#0000ff" />
<rect x="469.38" y="110.90" width="7.92" height="7.20" fill="#0000ff" />
<rect x="476.70" y="110.90" width="7.92" height="7.20" fill="#1000ef" />
<rect x="484.02" y="110.90" width="7.93" height="7.20" fill="#2000df" />
<rect x="491.35" y="110.90" width="7.92" height="7.20" fill="#2000df" />
<rect x="498.68" y="110.90" width="7.92" height="7.20" fill="#1000ef" />
<rect x="506.00" y="110.90" width="7.93" height="7.20" fill="#2000df" />
<rect x="513.33" y="110.90" width="7.92" height="7.20" fill="#2000df" />
<rect x="520.65" y="110.90" width="7.93" height="7.20" fill="#1000ef" />
<rect x="527.98" y="110.90" width="7.92" height="7.20" fill="#2000df" />
<rect x="535.30" y="110.90" width="7.93" height="7.20" fill="#1000ef" />
<rect x="542.62" y="110.90" width="7.92" height="7.20" fill="#2000df" />
<rect x="549.95" y="110.90" width="7.93" height="7.20" fill="#2000df" />
<rect x="557.27" y="110.90" width="7.93" height="7.20" fill="#4000bf" />
<rect x="564.60" y="110.90" width="7.92" height="7.20" fill="#4000bf" />
<rect x="571.92" y="110.90" width="7.93" height="7.20" fill="#4000bf" />
<rect x="579.25" y="110.90" width="7.92" height="7.20" fill="#60009f" />
<rect x="586.57" y="110.90" width="7.93" height="7.20" fill="#60009f" />
<rect x="388.80" y="117.50" width="7.92" height="7.20" fill="#9f9f60" />
<rect x="396.12" y="117.50" width="7.92" height="7.20" fill="#5050af" />
<rect x="403.45" y="117.50" width="7.93" height="7.20" fill="#5050af" />
<rect x="410.78" y="117.50" width="7.92" height="7.20" fill="#5050af" />
<rect x="418.10" y="117.50" width="7.92" height="7.20" fill="#4040bf" />
<rect x="425.43" y="117.50" width="7.92" height="7.20" fill="#4040bf" />
<rect x="432.75" y="117.50" width="7.92" height="7.20" fill="#60609f" />
<rect x="440.07" y="117.50" width="7.92" height="7.20" fill="#0000ff" />
<rect x="447.40" y="117.50" width="7.93" height="7.20" fill="#0000ff" />
<rect x="454.73" y="117.50" width="7.92" height="7.20" fill="#0000ff" />
<rect x="462.05" y="117.50" width="7.92" height="7.20" fill="#0000ff" />
<rect x="469.38" y="117.50" width="7.92" height="7.20" fill="#0000ff" />
<rect x="476.70" y="117.50" width="7.92" height="7.20" fill="#0000ff" />
<rect x="484.02" y="117.50" width="7.93" height="7.20" fill="#0000ff" />
<rect x="491.35" y="117.50" width="7.92" height="7.20" fill="#0000ff" />
<rect x="498.68" y="117.50" width="7.92" height="7.20" fill="#1000ef" />
<rect x="506.00" y="117.50" width="7.93" height="7.20" fill="#2000df" />
<rect x="513.33" y="117.50" width="7.92" height="7.20" fill="#4000bf" />
<rect x="520.65" y="117.50" width="7.93" height="7.20" fill="#4000bf" />
<rect x="527.98" y="117.50" width="7.92" height="7.20" fill="#2000df" />
<rect x="535.30" y="117.50" width="7.93" height="7.20" fill="#2000df" />
<rect x="542.62" y="117.50" width="7.92" height="7.20" fill="#0000ff" />
<rect x="549.95" y="117.50" width="7.93" height="7.20" fill="#0000ff" />
<rect x="557.27" y="117.50" width="7.93" height="7.20" fill="#4000bf" />
<rect x="564.60" y="117.50" width="7.92" height="7.20" fill="#4000bf" />
<rect x="571.92" y="117.50" width="7.93" height="7.20" fill="#4000bf" />
<rect x="579.25" y="117.50" width="7.92" height="7.20" fill="#4000bf" />
<rect x="586.57" y="117.50" width="7.93" height="7.20" fill="#4000bf" />
<rect x="388.80" y="124.10" width="7.92" height="7.20" fill="#808080" />
<rect x="396.12" y="124.10" width="7.92" height="7.20" fill="#5050af" />
<rect x="403.45" y="124.10" width="7.93" height="7.20" fill="#5050af" />
<rect x="410.78" y="124.10" width="7.92" height="7.20" fill="#5050af" />
<rect x="418.10" y="124.10" width="7.92" height="7.20" fill="#60609f" />
<rect x="425.43" y="124.10" width="7.92" height="7.20" fill="#60609f" />
<rect x="432.75" y="124.10" width="7.92" height="7.20" fill="#3030cf" />
<rect x="440.07" y="124.10" width="7.92" height="7.20" fill="#0000ff" />
<rect x="447.40" y="124.10" width="7.93" height="7.20" fill="#0000ff" />
<rect x="454.73" y="124.10" width="7.92" height="7.20" fill="#0000ff" />
<rect x="462.05" y="124.10" width="7.92" height="7.20" fill="#0000ff" />
<rect x="469.38" y="124.10" width="7.92" height="7.20" fill="#0000ff" />
<rect x="476.70" y="124.10" width="7.92" height="7.20" fill="#2020df" />
<rect x="484.02" y="124.10" width="7.93" height="7.20" fill="#0000ff" />
<rect x="491.35" y="124.10" width="7.92" height="7.20" fill="#0000ff" />
<rect x="498.68" y="124.10" width="7.92" height="7.20" fill="#1000ef" />
<rect x="506.00" y="124.10" width="7.93" height="7.20" fill="#1000ef" />
<rect x="513.33" y="124.10" width="7.92" height="7.20" fill="#2000df" />
<rect x="520.65" y="124.10" width="7.93" height="7.20" fill="#2000df" />
<rect x="527.98" y="124.10" width="7.92" height="7.20" fill="#2000df" />
<rect x="535.30" y="124.10" width="7.93" height="7.20" fill="#2000df" />
<rect x="542.62" y="124.10" width="7.92" height="7.20" fill="#2000df" />
<rect x="549.95" y="124.10" width="7.93" height="7.20" fill="#2000df" />
<rect x="557.27" y="124.10" width="7.93" height="7.20" fill="#3000cf" />
<rect x="564.60" y="124.10" width="7.92" height="7.20" fill="#3000cf" />
<rect x="571.92" y="124.10" width="7.93" height="7.20" fill="#3000cf" />
<rect x="579.25" y="124.10" width="7.92" height="7.20" fill="#4000bf" />
<rect x="586.57" y="124.10" width="7.93" height="7.20" fill="#4000bf" />
</g>
<clipPath id="hc4"><rect x="602.00" y="5.30" width="14.00" height="125.40"/></clipPath><g clip-path="url(#hc4)">
<rect x="602.00" y="5.30" width="14.60" height="7.20" fill="#df0020" />
<rect x="602.00" y="11.90" width="14.60" height="7.20" fill="#bf0040" />
<rect x="602.00" y="18.50" width="14.60" height="7.20" fill="#bf0040" />
<rect x="602.00" y="25.10" width="14.60" height="7.20" fill="#800080" />
<rect x="602.00" y="31.70" width="14.60" height="7.20" fill="#60009f" />
<rect x="602.00" y="38.30" width="14.60" height="7.20" fill="#5000af" />
<rect x="602.00" y="44.90" width="14.60" height="7.20" fill="#70008f" />
<rect x="602.00" y="51.50" width="14.60" height="7.20" fill="#4000bf" />
<rect x="602.00" y="58.10" width="14.60" height="7.20" fill="#4000bf" />
<rect x="602.00" y="64.70" width="14.60" height="7.20" fill="#60009f" />
<rect x="602.00" y="71.30" width="14.60" height="7.20" fill="#2000df" />
<rect x="602.00" y="77.90" width="14.60" height="7.20" fill="#60009f" />
<rect x="602.00" y="84.50" width="14.60" height="7.20" fill="#5000af" />
<rect x="602.00" y="91.10" width="14.60" height="7.20" fill="#5000af" />
<rect x="602.00" y="97.70" width="14.60" height="7.20" fill="#4000bf" />
<rect x="602.00" y="104.30" width="14.60" height="7.20" fill="#4000bf" />
<rect x="602.00" y="110.90" width="14.60" height="7.20" fill="#60009f" />
<rect x="602.00" y="117.50" width="14.60" height="7.20" fill="#1000ef" />
<rect x="602.00" y="124.10" width="14.60" height="7.20" fill="#1000ef" />
</g>
<rect x="388.80" y="5.30" width="227.20" height="125.40" fill="none" stroke="#7a7a7a" stroke-width="1"/>
<clipPath id="hc5"><rect x="388.90" y="203.50" width="204.70" height="124.90"/></clipPath><g clip-path="url(#hc5)">
<rect x="388.90" y="203.50" width="8.18" height="7.17" fill="#bfbf40" />
<rect x="396.48" y="203.50" width="8.18" height="7.17" fill="#bfbf40" />
<rect x="404.06" y="203.50" width="8.18" height="7.17" fill="#cccc33" />
<rect x="411.64" y="203.50" width="8.18" height="7.17" fill="#afaf50" />
<rect x="419.23" y="203.50" width="8.18" height="7.17" fill="#9f9f60" />
<rect x="426.81" y="203.50" width="8.18" height="7.17" fill="#808080" />
<rect x="434.39" y="203.50" width="8.18" height="7.17" fill="#5050af" />
<rect x="441.97" y="203.50" width="8.18" height="7.17" fill="#5050af" />
<rect x="449.55" y="203.50" width="8.18" height="7.17" fill="#5050af" />
<rect x="457.13" y="203.50" width="8.18" height="7.17" fill="#5050af" />
<rect x="464.71" y="203.50" width="8.18" height="7.17" fill="#5050af" />
<rect x="472.30" y="203.50" width="8.18" height="7.17" fill="#3030cf" />
<rect x="479.88" y="203.50" width="8.18" height="7.17" fill="#3030cf" />
<rect x="487.46" y="203.50" width="8.18" height="7.17" fill="#3030cf" />
<rect x="495.04" y="203.50" width="8.18" height="7.17" fill="#4040bf" />
<rect x="502.62" y="203.50" width="8.18" height="7.17" fill="#2020df" />
<rect x="510.20" y="203.50" width="8.18" height="7.17" fill="#1010ef" />
<rect x="517.79" y="203.50" width="8.18" height="7.17" fill="#8f0070" />
<rect x="525.37" y="203.50" width="8.18" height="7.17" fill="#2020df" />
<rect x="532.95" y="203.50" width="8.18" height="7.17" fill="#2020df" />
<rect x="540.53" y="203.50" width="8.18" height="7.17" fill="#0000ff" />
<rect x="548.11" y="203.50" width="8.18" height="7.17" fill="#0000ff" />
<rect x="555.69" y="203.50" width="8.18" height="7.17" fill="#1010ef" />
<rect x="563.27" y="203.50" width="8.18" height="7.17" fill="#1010ef" />
<rect x="570.86" y="203.50" width="8.18" height="7.17" fill="#1010ef" />
<rect x="578.44" y="203.50" width="8.18" height="7.17" fill="#0000ff" />
<rect x="586.02" y="203.50" width="8.18" height="7.17" fill="#0000ff" />
<rect x="388.90" y="210.07" width="8.18" height="7.17" fill="#bfbf40" />
<rect x="396.48" y="210.07" width="8.18" height="7.17" fill="#bfbf40" />
<rect x="404.06" y="210.07" width="8.18" height="7.17" fill="#bcbc43" />
<rect x="411.64" y="210.07" width="8.18" height="7.17" fill="#a6a659" />
<rect x="419.23" y="210.07" width="8.18" height="7.17" fill="#9f9f60" />
<rect x="426.81" y="210.07" width="8.18" height="7.17" fill="#999966" />
<rect x="434.39" y="210.07" width="8.18" height="7.17" fill="#4040bf" />
<rect x="441.97" y="210.07" width="8.18" height="7.17" fill="#4040bf" />
<rect x="449.55" y="210.07" width="8.18" height="7.17" fill="#4040bf" />
<rect x="457.13" y="210.07" width="8.18" height="7.17" fill="#4040bf" />
<rect x="464.71" y="210.07" width="8.18" height="7.17" fill="#4040bf" />
<rect x="472.30" y="210.07" width="8.18" height="7.17" fill="#3030cf" />
<rect x="479.88" y="210.07" width="8.18" height="7.17" fill="#3030cf" />
<rect x="487.46" y="210.07" width="8.18" height="7.17" fill="#3030cf" />
<rect x="495.04" y="210.07" width="8.18" height="7.17" fill="#4040bf" />
<rect x="502.62" y="210.07" width="8.18" height="7.17" fill="#3030cf" />
<rect x="510.20" y="210.07" width="8.18" height="7.17" fill="#1010ef" />
<rect x="517.79" y="210.07" width="8.18" height="7.17" fill="#800080" />
<rect x="525.37" y="210.07" width="8.18" height="7.17" fill="#2020df" />
<rect x="532.95" y="210.07" width="8.18" height="7.17" fill="#1010ef" />
<rect x="540.53" y="210.07" width="8.18" height="7.17" fill="#1010ef" />
<rect x="548.11" y="210.07" width="8.18" height="7.17" fill="#0000ff" />
<rect x="555.69" y="210.07" width="8.18" height="7.17" fill="#2020df" />
<rect x="563.27" y="210.07" width="8.18" height="7.17" fill="#2020df" />
<rect x="570.86" y="210.07" width="8.18" height="7.17" fill="#2020df" />
<rect x="578.44" y="210.07" width="8.18" height="7.17" fill="#0000ff" />
<rect x="586.02" y="210.07" width="8.18" height="7.17" fill="#0000ff" />
<rect x="388.90" y="216.65" width="8.18" height="7.17" fill="#bfbf40" />
<rect x="396.48" y="216.65" width="8.18" height="7.17" fill="#bfbf40" />
<rect x="404.06" y="216.65" width="8.18" height="7.17" fill="#cccc33" />
<rect x="411.64" y="216.65" width="8.18" height="7.17" fill="#a6a659" />
<rect x="419.23" y="216.65" width="8.18" height="7.17" fill="#9f9f60" />
<rect x="426.81" y="216.65" width="8.18" height="7.17" fill="#808080" />
<rect x="434.39" y="216.65" width="8.18" height="7.17" fill="#4040bf" />
<rect x="441.97" y="216.65" width="8.18" height="7.17" fill="#4040bf" />
<rect x="449.55" y="216.65" width="8.18" height="7.17" fill="#4040bf" />
<rect x="457.13" y="216.65" width="8.18" height="7.17" fill="#4040bf" />
<rect x="464.71" y="216.65" width="8.18" height="7.17" fill="#4040bf" />
<rect x="472.30" y="216.65" width="8.18" height="7.17" fill="#3030cf" />
<rect x="479.88" y="216.65" width="8.18" height="7.17" fill="#3030cf" />
<rect x="487.46" y="216.65" width="8.18" height="7.17" fill="#3030cf" />
<rect x="495.04" y="216.65" width="8.18" height="7.17" fill="#3030cf" />
<rect x="502.62" y="216.65" width="8.18" height="7.17" fill="#2020df" />
<rect x="510.20" y="216.65" width="8.18" height="7.17" fill="#2020df" />
<rect x="517.79" y="216.65" width="8.18" height="7.17" fill="#70008f" />
<rect x="525.37" y="216.65" width="8.18" height="7.17" fill="#2020df" />
<rect x="532.95" y="216.65" width="8.18" height="7.17" fill="#2020df" />
<rect x="540.53" y="216.65" width="8.18" height="7.17" fill="#0000ff" />
<rect x="548.11" y="216.65" width="8.18" height="7.17" fill="#1010ef" />
<rect x="555.69" y="216.65" width="8.18" height="7.17" fill="#2020df" />
<rect x="563.27" y="216.65" width="8.18" height="7.17" fill="#2020df" />
<rect x="570.86" y="216.65" width="8.18" height="7.17" fill="#2020df" />
<rect x="578.44" y="216.65" width="8.18" height="7.17" fill="#0000ff" />
<rect x="586.02" y="216.65" width="8.18" height="7.17" fill="#0000ff" />
<rect x="388.90" y="223.22" width="8.18" height="7.17" fill="#bfbf40" />
<rect x="396.48" y="223.22" width="8.18" height="7.17" fill="#bfbf40" />
<rect x="404.06" y="223.22" width="8.18" height="7.17" fill="#bcbc43" />
<rect x="411.64" y="223.22" width="8.18" height="7.17" fill="#a6a659" />
<rect x="419.23" y="223.22" width="8.18" height="7.17" fill="#9f9f60" />
<rect x="426.81" y="223.22" width="8.18" height="7.17" fill="#8f8f70" />
<rect x="434.39" y="223.22" width="8.18" height="7.17" fill="#4646b9" />
<rect x="441.97" y="223.22" width="8.18" height="7.17" fill="#4646b9" />
<rect x="449.55" y="223.22" width="8.18" height="7.17" fill="#4646b9" />
<rect x="457.13" y="223.22" width="8.18" height="7.17" fill="#4646b9" />
<rect x="464.71" y="223.22" width="8.18" height="7.17" fill="#4646b9" />
<rect x="472.30" y="223.22" width="8.18" height="7.17" fill="#4040bf" />
<rect x="479.88" y="223.22" width="8.18" height="7.17" fill="#5050af" />
<rect x="487.46" y="223.22" width="8.18" height="7.17" fill="#5050af" />
<rect x="495.04" y="223.22" width="8.18" height="7.17" fill="#3030cf" />
<rect x="502.62" y="223.22" width="8.18" height="7.17" fill="#3030cf" />
<rect x="510.20" y="223.22" width="8.18" height="7.17" fill="#2020df" />
<rect x="517.79" y="223.22" width="8.18" height="7.17" fill="#5000af" />
<rect x="525.37" y="223.22" width="8.18" height="7.17" fill="#2020df" />
<rect x="532.95" y="223.22" width="8.18" height="7.17" fill="#2020df" />
<rect x="540.53" y="223.22" width="8.18" height="7.17" fill="#0000ff" />
<rect x="548.11" y="223.22" width="8.18" height="7.17" fill="#0000ff" />
<rect x="555.69" y="223.22" width="8.18" height="7.17" fill="#0000ff" />
<rect x="563.27" y="223.22" width="8.18" height="7.17" fill="#0000ff" />
<rect x="570.86" y="223.22" width="8.18" height="7.17" fill="#0000ff" />
<rect x="578.44" y="223.22" width="8.18" height="7.17" fill="#1000ef" />
<rect x="586.02" y="223.22" width="8.18" height="7.17" fill="#1000ef" />
<rect x="388.90" y="229.79" width="8.18" height="7.17" fill="#bfbf40" />
<rect x="396.48" y="229.79" width="8.18" height="7.17" fill="#bfbf40" />
<rect x="404.06" y="229.79" width="8.18" height="7.17" fill="#c9c936" />
<rect x="411.64" y="229.79" width="8.18" height="7.17" fill="#9f9f60" />
<rect x="419.23" y="229.79" width="8.18" height="7.17" fill="#969669" />
<rect x="426.81" y="229.79" width="8.18" height="7.17" fill="#999966" />
<rect x="434.39" y="229.79" width="8.18" height="7.17" fill="#5050af" />
<rect x="441.97" y="229.79" width="8.18" height="7.17" fill="#5050af" />
<rect x="449.55" y="229.79" width="8.18" height="7.17" fill="#5050af" />
<rect x="457.13" y="229.79" width="8.18" height="7.17" fill="#5050af" />
<rect x="464.71" y="229.79" width="8.18" height="7.17" fill="#5050af" />
<rect x="472.30" y="229.79" width="8.18" height="7.17" fill="#3030cf" />
<rect x="479.88" y="229.79" width="8.18" height="7.17" fill="#3030cf" />
<rect x="487.46" y="229.79" width="8.18" height="7.17" fill="#3030cf" />
<rect x="495.04" y="229.79" width="8.18" height="7.17" fill="#3030cf" />
<rect x="502.62" y="229.79" width="8.18" height="7.17" fill="#3030cf" />
<rect x="510.20" y="229.79" width="8.18" height="7.17" fill="#2020df" />
<rect x="517.79" y="229.79" width="8.18" height="7.17" fill="#4000bf" />
<rect x="525.37" y="229.79" width="8.18" height="7.17" fill="#3030cf" />
<rect x="532.95" y="229.79" width="8.18" height="7.17" fill="#2020df" />
<rect x="540.53" y="229.79" width="8.18" height="7.17" fill="#1010ef" />
<rect x="548.11" y="229.79" width="8.18" height="7.17" fill="#0000ff" />
<rect x="555.69" y="229.79" width="8.18" height="7.17" fill="#0000ff" />
<rect x="563.27" y="229.79" width="8.18" height="7.17" fill="#0000ff" />
<rect x="570.86" y="229.79" width="8.18" height="7.17" fill="#0000ff" />
<rect x="578.44" y="229.79" width="8.18" height="7.17" fill="#0000ff" />
<rect x="586.02" y="229.79" width="8.18" height="7.17" fill="#0000ff" />
<rect x="388.90" y="236.37" width="8.18" height="7.17" fill="#b9b946" />
<rect x="396.48" y="236.37" width="8.18" height="7.17" fill="#b9b946" />
<rect x="404.06" y="236.37" width="8.18" height="7.17" fill="#bcbc43" />
<rect x="411.64" y="236.37" width="8.18" height="7.17" fill="#9f9f60" />
<rect x="419.23" y="236.37" width="8.18" height="7.17" fill="#999966" />
<rect x="426.81" y="236.37" width="8.18" height="7.17" fill="#999966" />
<rect x="434.39" y="236.37" width="8.18" height="7.17" fill="#4646b9" />
<rect x="441.97" y="236.37" width="8.18" height="7.17" fill="#4646b9" />
<rect x="449.55" y="236.37" width="8.18" height="7.17" fill="#4646b9" />
<rect x="457.13" y="236.37" width="8.18" height="7.17" fill="#4646b9" />
<rect x="464.71" y="236.37" width="8.18" height="7.17" fill="#4646b9" />
<rect x="472.30" y="236.37" width="8.18" height="7.17" fill="#5050af" />
<rect x="479.88" y="236.37" width="8.18" height="7.17" fill="#3030cf" />
<rect x="487.46" y="236.37" width="8.18" height="7.17" fill="#3030cf" />
<rect x="495.04" y="236.37" width="8.18" height="7.17" fill="#3030cf" />
<rect x="502.62" y="236.37" width="8.18" height="7.17" fill="#4040bf" />
<rect x="510.20" y="236.37" width="8.18" height="7.17" fill="#1010ef" />
<rect x="517.79" y="236.37" width="8.18" height="7.17" fill="#3000cf" />
<rect x="525.37" y="236.37" width="8.18" height="7.17" fill="#4040bf" />
<rect x="532.95" y="236.37" width="8.18" height="7.17" fill="#2020df" />
<rect x="540.53" y="236.37" width="8.18" height="7.17" fill="#0000ff" />
<rect x="548.11" y="236.37" width="8.18" height="7.17" fill="#0000ff" />
<rect x="555.69" y="236.37" width="8.18" height="7.17" fill="#2020df" />
<rect x="563.27" y="236.37" width="8.18" height="7.17" fill="#2020df" />
<rect x="570.86" y="236.37" width="8.18" height="7.17" fill="#2020df" />
<rect x="578.44" y="236.37" width="8.18" height="7.17" fill="#0000ff" />
<rect x="586.02" y="236.37" width="8.18" height="7.17" fill="#0000ff" />
<rect x="388.90" y="242.94" width="8.18" height="7.17" fill="#c9c936" />
<rect x="396.48" y="242.94" width="8.18" height="7.17" fill="#c9c936" />
<rect x="404.06" y="242.94" width="8.18" height="7.17" fill="#b6b649" />
<rect x="411.64" y="242.94" width="8.18" height="7.17" fill="#9f9f60" />
<rect x="419.23" y="242.94" width="8.18" height="7.17" fill="#969669" />
<rect x="426.81" y="242.94" width="8.18" height="7.17" fill="#93936c" />
<rect x="434.39" y="242.94" width="8.18" height="7.17" fill="#4646b9" />
<rect x="441.97" y="242.94" width="8.18" height="7.17" fill="#4646b9" />
<rect x="449.55" y="242.94" width="8.18" height="7.17" fill="#4646b9" />
<rect x="457.13" y="242.94" width="8.18" height="7.17" fill="#4646b9" />
<rect x="464.71" y="242.94" width="8.18" height="7.17" fill="#4646b9" />
<rect x="472.30" y="242.94" width="8.18" height="7.17" fill="#5050af" />
<rect x="479.88" y="242.94" width="8.18" height="7.17" fill="#2020df" />
<rect x="487.46" y="242.94" width="8.18" height="7.17" fill="#2020df" />
<rect x="495.04" y="242.94" width="8.18" height="7.17" fill="#4040bf" />
<rect x="502.62" y="242.94" width="8.18" height="7.17" fill="#3030cf" />
<rect x="510.20" y="242.94" width="8.18" height="7.17" fill="#2020df" />
<rect x="517.79" y="242.94" width="8.18" height="7.17" fill="#2000df" />
<rect x="525.37" y="242.94" width="8.18" height="7.17" fill="#2020df" />
<rect x="532.95" y="242.94" width="8.18" height="7.17" fill="#2020df" />
<rect x="540.53" y="242.94" width="8.18" height="7.17" fill="#2020df" />
<rect x="548.11" y="242.94" width="8.18" height="7.17" fill="#0000ff" />
<rect x="555.69" y="242.94" width="8.18" height="7.17" fill="#1010ef" />
<rect x="563.27" y="242.94" width="8.18" height="7.17" fill="#1010ef" />
<rect x="570.86" y="242.94" width="8.18" height="7.17" fill="#1010ef" />
<rect x="578.44" y="242.94" width="8.18" height="7.17" fill="#0000ff" />
<rect x="586.02" y="242.94" width="8.18" height="7.17" fill="#0000ff" />
<rect x="388.90" y="249.52" width="8.18" height="7.17" fill="#bfbf40" />
<rect x="396.48" y="249.52" width="8.18" height="7.17" fill="#bfbf40" />
<rect x="404.06" y="249.52" width="8.18" height="7.17" fill="#acac53" />
<rect x="411.64" y="249.52" width="8.18" height="7.17" fill="#999966" />
<rect x="419.23" y="249.52" width="8.18" height="7.17" fill="#898976" />
<rect x="426.81" y="249.52" width="8.18" height="7.17" fill="#93936c" />
<rect x="434.39" y="249.52" width="8.18" height="7.17" fill="#5656a9" />
<rect x="441.97" y="249.52" width="8.18" height="7.17" fill="#5656a9" />
<rect x="449.55" y="249.52" width="8.18" height="7.17" fill="#5656a9" />
<rect x="457.13" y="249.52" width="8.18" height="7.17" fill="#5656a9" />
<rect x="464.71" y="249.52" width="8.18" height="7.17" fill="#5656a9" />
<rect x="472.30" y="249.52" width="8.18" height="7.17" fill="#5050af" />
<rect x="479.88" y="249.52" width="8.18" height="7.17" fill="#3030cf" />
<rect x="487.46" y="249.52" width="8.18" height="7.17" fill="#3030cf" />
<rect x="495.04" y="249.52" width="8.18" height="7.17" fill="#3030cf" />
<rect x="502.62" y="249.52" width="8.18" height="7.17" fill="#4040bf" />
<rect x="510.20" y="249.52" width="8.18" height="7.17" fill="#2020df" />
<rect x="517.79" y="249.52" width="8.18" height="7.17" fill="#0000ff" />
<rect x="525.37" y="249.52" width="8.18" height="7.17" fill="#3030cf" />
<rect x="532.95" y="249.52" width="8.18" height="7.17" fill="#2020df" />
<rect x="540.53" y="249.52" width="8.18" height="7.17" fill="#2020df" />
<rect x="548.11" y="249.52" width="8.18" height="7.17" fill="#0000ff" />
<rect x="555.69" y="249.52" width="8.18" height="7.17" fill="#2020df" />
<rect x="563.27" y="249.52" width="8.18" height="7.17" fill="#2020df" />
<rect x="570.86" y="249.52" width="8.18" height="7.17" fill="#2020df" />
<rect x="578.44" y="249.52" width="8.18" height="7.17" fill="#0000ff" />
<rect x="586.02" y="249.52" width="8.18" height="7.17" fill="#0000ff" />
<rect x="388.90" y="256.09" width="8.18" height="7.17" fill="#a6a659" />
<rect x="396.48" y="256.09" width="8.18" height="7.17" fill="#a6a659" />
<rect x="404.06" y="256.09" width="8.18" height="7.17" fill="#bcbc43" />
<rect x="411.64" y="256.09" width="8.18" height="7.17" fill="#999966" />
<rect x="419.23" y="256.09" width="8.18" height="7.17" fill="#8c8c73" />
<rect x="426.81" y="256.09" width="8.18" height="7.17" fill="#acac53" />
<rect x="434.39" y="256.09" width="8.18" height="7.17" fill="#60609f" />
<rect x="441.97" y="256.09" width="8.18" height="7.17" fill="#60609f" />
<rect x="449.55" y="256.09" width="8.18" height="7.17" fill="#60609f" />
<rect x="457.13" y="256.09" width="8.18" height="7.17" fill="#60609f" />
<rect x="464.71" y="256.09" width="8.18" height="7.17" fill="#60609f" />
<rect x="472.30" y="256.09" width="8.18" height="7.17" fill="#4040bf" />
<rect x="479.88" y="256.09" width="8.18" height="7.17" fill="#3030cf" />
<rect x="487.46" y="256.09" width="8.18" height="7.17" fill="#3030cf" />
<rect x="495.04" y="256.09" width="8.18" height="7.17" fill="#4040bf" />
<rect x="502.62" y="256.09" width="8.18" height="7.17" fill="#4040bf" />
<rect x="510.20" y="256.09" width="8.18" height="7.17" fill="#4040bf" />
<rect x="517.79" y="256.09" width="8.18" height="7.17" fill="#0000ff" />
<rect x="525.37" y="256.09" width="8.18" height="7.17" fill="#2020df" />
<rect x="532.95" y="256.09" width="8.18" height="7.17" fill="#2020df" />
<rect x="540.53" y="256.09" width="8.18" height="7.17" fill="#1010ef" />
<rect x="548.11" y="256.09" width="8.18" height="7.17" fill="#1010ef" />
<rect x="555.69" y="256.09" width="8.18" height="7.17" fill="#0000ff" />
<rect x="563.27" y="256.09" width="8.18" height="7.17" fill="#0000ff" />
<rect x="570.86" y="256.09" width="8.18" height="7.17" fill="#0000ff" />
<rect x="578.44" y="256.09" width="8.18" height="7.17" fill="#0000ff" />
<rect x="586.02" y="256.09" width="8.18" height="7.17" fill="#0000ff" />
<rect x="388.90" y="262.66" width="8.18" height="7.17" fill="#bfbf40" />
<rect x="396.48" y="262.66" width="8.18" height="7.17" fill="#bfbf40" />
<rect x="404.06" y="262.66" width="8.18" height="7.17" fill="#acac53" />
<rect x="411.64" y="262.66" width="8.18" height="7.17" fill="#808080" />
<rect x="419.23" y="262.66" width="8.18" height="7.17" fill="#666699" />
<rect x="426.81" y="262.66" width="8.18" height="7.17" fill="#a6a659" />
<rect x="434.39" y="262.66" width="8.18" height="7.17" fill="#60609f" />
<rect x="441.97" y="262.66" width="8.18" height="7.17" fill="#60609f" />
<rect x="449.55" y="262.66" width="8.18" height="7.17" fill="#60609f" />
<rect x="457.13" y="262.66" width="8.18" height="7.17" fill="#60609f" />
<rect x="464.71" y="262.66" width="8.18" height="7.17" fill="#60609f" />
<rect x="472.30" y="262.66" width="8.18" height="7.17" fill="#4040bf" />
<rect x="479.88" y="262.66" width="8.18" height="7.17" fill="#2020df" />
<rect x="487.46" y="262.66" width="8.18" height="7.17" fill="#2020df" />
<rect x="495.04" y="262.66" width="8.18" height="7.17" fill="#3030cf" />
<rect x="502.62" y="262.66" width="8.18" height="7.17" fill="#4040bf" />
<rect x="510.20" y="262.66" width="8.18" height="7.17" fill="#2020df" />
<rect x="517.79" y="262.66" width="8.18" height="7.17" fill="#0000ff" />
<rect x="525.37" y="262.66" width="8.18" height="7.17" fill="#3030cf" />
<rect x="532.95" y="262.66" width="8.18" height="7.17" fill="#3030cf" />
<rect x="540.53" y="262.66" width="8.18" height="7.17" fill="#3030cf" />
<rect x="548.11" y="262.66" width="8.18" height="7.17" fill="#2020df" />
<rect x="555.69" y="262.66" width="8.18" height="7.17" fill="#0000ff" />
<rect x="563.27" y="262.66" width="8.18" height="7.17" fill="#0000ff" />
<rect x="570.86" y="262.66" width="8.18" height="7.17" fill="#0000ff" />
<rect x="578.44" y="262.66" width="8.18" height="7.17" fill="#0000ff" />
<rect x="586.02" y="262.66" width="8.18" height="7.17" fill="#0000ff" />
<rect x="388.90" y="269.24" width="8.18" height="7.17" fill="#bfbf40" />
<rect x="396.48" y="269.24" width="8.18" height="7.17" fill="#bfbf40" />
<rect x="404.06" y="269.24" width="8.18" height="7.17" fill="#a6a659" />
<rect x="411.64" y="269.24" width="8.18" height="7.17" fill="#808080" />
<rect x="419.23" y="269.24" width="8.18" height="7.17" fill="#808080" />
<rect x="426.81" y="269.24" width="8.18" height="7.17" fill="#999966" />
<rect x="434.39" y="269.24" width="8.18" height="7.17" fill="#5050af" />
<rect x="441.97" y="269.24" width="8.18" height="7.17" fill="#5050af" />
<rect x="449.55" y="269.24" width="8.18" height="7.17" fill="#5050af" />
<rect x="457.13" y="269.24" width="8.18" height="7.17" fill="#5050af" />
<rect x="464.71" y="269.24" width="8.18" height="7.17" fill="#5050af" />
<rect x="472.30" y="269.24" width="8.18" height="7.17" fill="#4040bf" />
<rect x="479.88" y="269.24" width="8.18" height="7.17" fill="#3030cf" />
<rect x="487.46" y="269.24" width="8.18" height="7.17" fill="#3030cf" />
<rect x="495.04" y="269.24" width="8.18" height="7.17" fill="#4040bf" />
<rect x="502.62" y="269.24" width="8.18" height="7.17" fill="#3030cf" />
<rect x="510.20" y="269.24" width="8.18" height="7.17" fill="#2020df" />
<rect x="517.79" y="269.24" width="8.18" height="7.17" fill="#1010ef" />
<rect x="525.37" y="269.24" width="8.18" height="7.17" fill="#3030cf" />
<rect x="532.95" y="269.24" width="8.18" height="7.17" fill="#2020df" />
<rect x="540.53" y="269.24" width="8.18" height="7.17" fill="#2020df" />
<rect x="548.11" y="269.24" width="8.18" height="7.17" fill="#3030cf" />
<rect x="555.69" y="269.24" width="8.18" height="7.17" fill="#1010ef" />
<rect x="563.27" y="269.24" width="8.18" height="7.17" fill="#1010ef" />
<rect x="570.86" y="269.24" width="8.18" height="7.17" fill="#1010ef" />
<rect x="578.44" y="269.24" width="8.18" height="7.17" fill="#1010ef" />
<rect x="586.02" y="269.24" width="8.18" height="7.17" fill="#1010ef" />
<rect x="388.90" y="275.81" width="8.18" height="7.17" fill="#9f9f60" />
<rect x="396.48" y="275.81" width="8.18" height="7.17" fill="#9f9f60" />
<rect x="404.06" y="275.81" width="8.18" height="7.17" fill="#a6a659" />
<rect x="411.64" y="275.81" width="8.18" height="7.17" fill="#70708f" />
<rect x="419.23" y="275.81" width="8.18" height="7.17" fill="#60609f" />
<rect x="426.81" y="275.81" width="8.18" height="7.17" fill="#8f8f70" />
<rect x="434.39" y="275.81" width="8.18" height="7.17" fill="#70708f" />
<rect x="441.97" y="275.81" width="8.18" height="7.17" fill="#70708f" />
<rect x="449.55" y="275.81" width="8.18" height="7.17" fill="#70708f" />
<rect x="457.13" y="275.81" width="8.18" height="7.17" fill="#70708f" />
<rect x="464.71" y="275.81" width="8.18" height="7.17" fill="#70708f" />
<rect x="472.30" y="275.81" width="8.18" height="7.17" fill="#5050af" />
<rect x="479.88" y="275.81" width="8.18" height="7.17" fill="#5050af" />
<rect x="487.46" y="275.81" width="8.18" height="7.17" fill="#5050af" />
<rect x="495.04" y="275.81" width="8.18" height="7.17" fill="#4040bf" />
<rect x="502.62" y="275.81" width="8.18" height="7.17" fill="#2020df" />
<rect x="510.20" y="275.81" width="8.18" height="7.17" fill="#3030cf" />
<rect x="517.79" y="275.81" width="8.18" height="7.17" fill="#2626d9" />
<rect x="525.37" y="275.81" width="8.18" height="7.17" fill="#3030cf" />
<rect x="532.95" y="275.81" width="8.18" height="7.17" fill="#3030cf" />
<rect x="540.53" y="275.81" width="8.18" height="7.17" fill="#1010ef" />
<rect x="548.11" y="275.81" width="8.18" height="7.17" fill="#0000ff" />
<rect x="555.69" y="275.81" width="8.18" height="7.17" fill="#2020df" />
<rect x="563.27" y="275.81" width="8.18" height="7.17" fill="#2020df" />
<rect x="570.86" y="275.81" width="8.18" height="7.17" fill="#2020df" />
<rect x="578.44" y="275.81" width="8.18" height="7.17" fill="#0000ff" />
<rect x="586.02" y="275.81" width="8.18" height="7.17" fill="#0000ff" />
<rect x="388.90" y="282.38" width="8.18" height="7.17" fill="#a6a659" />
<rect x="396.48" y="282.38" width="8.18" height="7.17" fill="#a6a659" />
<rect x="404.06" y="282.38" width="8.18" height="7.17" fill="#acac53" />
<rect x="411.64" y="282.38" width="8.18" height="7.17" fill="#60609f" />
<rect x="419.23" y="282.38" width="8.18" height="7.17" fill="#666699" />
<rect x="426.81" y="282.38" width="8.18" height="7.17" fill="#8f8f70" />
<rect x="434.39" y="282.38" width="8.18" height="7.17" fill="#70708f" />
<rect x="441.97" y="282.38" width="8.18" height="7.17" fill="#70708f" />
<rect x="449.55" y="282.38" width="8.18" height="7.17" fill="#70708f" />
<rect x="457.13" y="282.38" width="8.18" height="7.17" fill="#70708f" />
<rect x="464.71" y="282.38" width="8.18" height="7.17" fill="#70708f" />
<rect x="472.30" y="282.38" width="8.18" height="7.17" fill="#3030cf" />
<rect x="479.88" y="282.38" width="8.18" height="7.17" fill="#4040bf" />
<rect x="487.46" y="282.38" width="8.18" height="7.17" fill="#4040bf" />
<rect x="495.04" y="282.38" width="8.18" height="7.17" fill="#2020df" />
<rect x="502.62" y="282.38" width="8.18" height="7.17" fill="#3030cf" />
<rect x="510.20" y="282.38" width="8.18" height="7.17" fill="#4040bf" />
<rect x="517.79" y="282.38" width="8.18" height="7.17" fill="#4646b9" />
<rect x="525.37" y="282.38" width="8.18" height="7.17" fill="#3030cf" />
<rect x="532.95" y="282.38" width="8.18" height="7.17" fill="#1010ef" />
<rect x="540.53" y="282.38" width="8.18" height="7.17" fill="#1010ef" />
<rect x="548.11" y="282.38" width="8.18" height="7.17" fill="#4040bf" />
<rect x="555.69" y="282.38" width="8.18" height="7.17" fill="#2020df" />
<rect x="563.27" y="282.38" width="8.18" height="7.17" fill="#2020df" />
<rect x="570.86" y="282.38" width="8.18" height="7.17" fill="#2020df" />
<rect x="578.44" y="282.38" width="8.18" height="7.17" fill="#1010ef" />
<rect x="586.02" y="282.38" width="8.18" height="7.17" fill="#1010ef" />
<rect x="388.90" y="288.96" width="8.18" height="7.17" fill="#9f9f60" />
<rect x="396.48" y="288.96" width="8.18" height="7.17" fill="#9f9f60" />
<rect x="404.06" y="288.96" width="8.18" height="7.17" fill="#afaf50" />
<rect x="411.64" y="288.96" width="8.18" height="7.17" fill="#60609f" />
<rect x="419.23" y="288.96" width="8.18" height="7.17" fill="#60609f" />
<rect x="426.81" y="288.96" width="8.18" height="7.17" fill="#808080" />
<rect x="434.39" y="288.96" width="8.18" height="7.17" fill="#5959a6" />
<rect x="441.97" y="288.96" width="8.18" height="7.17" fill="#5959a6" />
<rect x="449.55" y="288.96" width="8.18" height="7.17" fill="#5959a6" />
<rect x="457.13" y="288.96" width="8.18" height="7.17" fill="#5959a6" />
<rect x="464.71" y="288.96" width="8.18" height="7.17" fill="#5959a6" />
<rect x="472.30" y="288.96" width="8.18" height="7.17" fill="#60609f" />
<rect x="479.88" y="288.96" width="8.18" height="7.17" fill="#4040bf" />
<rect x="487.46" y="288.96" width="8.18" height="7.17" fill="#4040bf" />
<rect x="495.04" y="288.96" width="8.18" height="7.17" fill="#4040bf" />
<rect x="502.62" y="288.96" width="8.18" height="7.17" fill="#2020df" />
<rect x="510.20" y="288.96" width="8.18" height="7.17" fill="#4040bf" />
<rect x="517.79" y="288.96" width="8.18" height="7.17" fill="#60609f" />
<rect x="525.37" y="288.96" width="8.18" height="7.17" fill="#2020df" />
<rect x="532.95" y="288.96" width="8.18" height="7.17" fill="#2020df" />
<rect x="540.53" y="288.96" width="8.18" height="7.17" fill="#3030cf" />
<rect x="548.11" y="288.96" width="8.18" height="7.17" fill="#3030cf" />
<rect x="555.69" y="288.96" width="8.18" height="7.17" fill="#2020df" />
<rect x="563.27" y="288.96" width="8.18" height="7.17" fill="#2020df" />
<rect x="570.86" y="288.96" width="8.18" height="7.17" fill="#2020df" />
<rect x="578.44" y="288.96" width="8.18" height="7.17" fill="#0000ff" />
<rect x="586.02" y="288.96" width="8.18" height="7.17" fill="#0000ff" />
<rect x="388.90" y="295.53" width="8.18" height="7.17" fill="#808080" />
<rect x="396.48" y="295.53" width="8.18" height="7.17" fill="#808080" />
<rect x="404.06" y="295.53" width="8.18" height="7.17" fill="#a6a659" />
<rect x="411.64" y="295.53" width="8.18" height="7.17" fill="#60609f" />
<rect x="419.23" y="295.53" width="8.18" height="7.17" fill="#5050af" />
<rect x="426.81" y="295.53" width="8.18" height="7.17" fill="#a6a659" />
<rect x="434.39" y="295.53" width="8.18" height="7.17" fill="#6c6c93" />
<rect x="441.97" y="295.53" width="8.18" height="7.17" fill="#6c6c93" />
<rect x="449.55" y="295.53" width="8.18" height="7.17" fill="#6c6c93" />
<rect x="457.13" y="295.53" width="8.18" height="7.17" fill="#6c6c93" />
<rect x="464.71" y="295.53" width="8.18" height="7.17" fill="#6c6c93" />
<rect x="472.30" y="295.53" width="8.18" height="7.17" fill="#4040bf" />
<rect x="479.88" y="295.53" width="8.18" height="7.17" fill="#4040bf" />
<rect x="487.46" y="295.53" width="8.18" height="7.17" fill="#4040bf" />
<rect x="495.04" y="295.53" width="8.18" height="7.17" fill="#4040bf" />
<rect x="502.62" y="295.53" width="8.18" height="7.17" fill="#4040bf" />
<rect x="510.20" y="295.53" width="8.18" height="7.17" fill="#4040bf" />
<rect x="517.79" y="295.53" width="8.18" height="7.17" fill="#70708f" />
<rect x="525.37" y="295.53" width="8.18" height="7.17" fill="#3030cf" />
<rect x="532.95" y="295.53" width="8.18" height="7.17" fill="#3030cf" />
<rect x="540.53" y="295.53" width="8.18" height="7.17" fill="#3030cf" />
<rect x="548.11" y="295.53" width="8.18" height="7.17" fill="#3030cf" />
<rect x="555.69" y="295.53" width="8.18" height="7.17" fill="#2020df" />
<rect x="563.27" y="295.53" width="8.18" height="7.17" fill="#2020df" />
<rect x="570.86" y="295.53" width="8.18" height="7.17" fill="#2020df" />
<rect x="578.44" y="295.53" width="8.18" height="7.17" fill="#1010ef" />
<rect x="586.02" y="295.53" width="8.18" height="7.17" fill="#1010ef" />
<rect x="388.90" y="302.11" width="8.18" height="7.17" fill="#797986" />
<rect x="396.48" y="302.11" width="8.18" height="7.17" fill="#797986" />
<rect x="404.06" y="302.11" width="8.18" height="7.17" fill="#a6a659" />
<rect x="411.64" y="302.11" width="8.18" height="7.17" fill="#60609f" />
<rect x="419.23" y="302.11" width="8.18" height="7.17" fill="#5050af" />
<rect x="426.81" y="302.11" width="8.18" height="7.17" fill="#999966" />
<rect x="434.39" y="302.11" width="8.18" height="7.17" fill="#5959a6" />
<rect x="441.97" y="302.11" width="8.18" height="7.17" fill="#5959a6" />
<rect x="449.55" y="302.11" width="8.18" height="7.17" fill="#5959a6" />
<rect x="457.13" y="302.11" width="8.18" height="7.17" fill="#5959a6" />
<rect x="464.71" y="302.11" width="8.18" height="7.17" fill="#5959a6" />
<rect x="472.30" y="302.11" width="8.18" height="7.17" fill="#5050af" />
<rect x="479.88" y="302.11" width="8.18" height="7.17" fill="#2020df" />
<rect x="487.46" y="302.11" width="8.18" height="7.17" fill="#2020df" />
<rect x="495.04" y="302.11" width="8.18" height="7.17" fill="#4040bf" />
<rect x="502.62" y="302.11" width="8.18" height="7.17" fill="#3030cf" />
<rect x="510.20" y="302.11" width="8.18" height="7.17" fill="#4040bf" />
<rect x="517.79" y="302.11" width="8.18" height="7.17" fill="#808080" />
<rect x="525.37" y="302.11" width="8.18" height="7.17" fill="#3030cf" />
<rect x="532.95" y="302.11" width="8.18" height="7.17" fill="#4040bf" />
<rect x="540.53" y="302.11" width="8.18" height="7.17" fill="#5050af" />
<rect x="548.11" y="302.11" width="8.18" height="7.17" fill="#3030cf" />
<rect x="555.69" y="302.11" width="8.18" height="7.17" fill="#3030cf" />
<rect x="563.27" y="302.11" width="8.18" height="7.17" fill="#3030cf" />
<rect x="570.86" y="302.11" width="8.18" height="7.17" fill="#3030cf" />
<rect x="578.44" y="302.11" width="8.18" height="7.17" fill="#4040bf" />
<rect x="586.02" y="302.11" width="8.18" height="7.17" fill="#4040bf" />
<rect x="388.90" y="308.68" width="8.18" height="7.17" fill="#60609f" />
<rect x="396.48" y="308.68" width="8.18" height="7.17" fill="#60609f" />
<rect x="404.06" y="308.68" width="8.18" height="7.17" fill="#999966" />
<rect x="411.64" y="308.68" width="8.18" height="7.17" fill="#5050af" />
<rect x="419.23" y="308.68" width="8.18" height="7.17" fill="#5050af" />
<rect x="426.81" y="308.68" width="8.18" height="7.17" fill="#808080" />
<rect x="434.39" y="308.68" width="8.18" height="7.17" fill="#5050af" />
<rect x="441.97" y="308.68" width="8.18" height="7.17" fill="#5050af" />
<rect x="449.55" y="308.68" width="8.18" height="7.17" fill="#5050af" />
<rect x="457.13" y="308.68" width="8.18" height="7.17" fill="#5050af" />
<rect x="464.71" y="308.68" width="8.18" height="7.17" fill="#5050af" />
<rect x="472.30" y="308.68" width="8.18" height="7.17" fill="#5050af" />
<rect x="479.88" y="308.68" width="8.18" height="7.17" fill="#2020df" />
<rect x="487.46" y="308.68" width="8.18" height="7.17" fill="#2020df" />
<rect x="495.04" y="308.68" width="8.18" height="7.17" fill="#70708f" />
<rect x="502.62" y="308.68" width="8.18" height="7.17" fill="#2020df" />
<rect x="510.20" y="308.68" width="8.18" height="7.17" fill="#4040bf" />
<rect x="517.79" y="308.68" width="8.18" height="7.17" fill="#93936c" />
<rect x="525.37" y="308.68" width="8.18" height="7.17" fill="#2020df" />
<rect x="532.95" y="308.68" width="8.18" height="7.17" fill="#4040bf" />
<rect x="540.53" y="308.68" width="8.18" height="7.17" fill="#4040bf" />
<rect x="548.11" y="308.68" width="8.18" height="7.17" fill="#70708f" />
<rect x="555.69" y="308.68" width="8.18" height="7.17" fill="#2020df" />
<rect x="563.27" y="308.68" width="8.18" height="7.17" fill="#2020df" />
<rect x="570.86" y="308.68" width="8.18" height="7.17" fill="#2020df" />
<rect x="578.44" y="308.68" width="8.18" height="7.17" fill="#2020df" />
<rect x="586.02" y="308.68" width="8.18" height="7.17" fill="#2020df" />
<rect x="388.90" y="315.25" width="8.18" height="7.17" fill="#60609f" />
<rect x="396.48" y="315.25" width="8.18" height="7.17" fill="#60609f" />
<rect x="404.06" y="315.25" width="8.18" height="7.17" fill="#808080" />
<rect x="411.64" y="315.25" width="8.18" height="7.17" fill="#4040bf" />
<rect x="419.23" y="315.25" width="8.18" height="7.17" fill="#5656a9" />
<rect x="426.81" y="315.25" width="8.18" height="7.17" fill="#9f9f60" />
<rect x="434.39" y="315.25" width="8.18" height="7.17" fill="#6c6c93" />
<rect x="441.97" y="315.25" width="8.18" height="7.17" fill="#6c6c93" />
<rect x="449.55" y="315.25" width="8.18" height="7.17" fill="#6c6c93" />
<rect x="457.13" y="315.25" width="8.18" height="7.17" fill="#6c6c93" />
<rect x="464.71" y="315.25" width="8.18" height="7.17" fill="#6c6c93" />
<rect x="472.30" y="315.25" width="8.18" height="7.17" fill="#60609f" />
<rect x="479.88" y="315.25" width="8.18" height="7.17" fill="#4040bf" />
<rect x="487.46" y="315.25" width="8.18" height="7.17" fill="#4040bf" />
<rect x="495.04" y="315.25" width="8.18" height="7.17" fill="#4040bf" />
<rect x="502.62" y="315.25" width="8.18" height="7.17" fill="#2020df" />
<rect x="510.20" y="315.25" width="8.18" height="7.17" fill="#5050af" />
<rect x="517.79" y="315.25" width="8.18" height="7.17" fill="#a6a659" />
<rect x="525.37" y="315.25" width="8.18" height="7.17" fill="#4040bf" />
<rect x="532.95" y="315.25" width="8.18" height="7.17" fill="#2020df" />
<rect x="540.53" y="315.25" width="8.18" height="7.17" fill="#4040bf" />
<rect x="548.11" y="315.25" width="8.18" height="7.17" fill="#60609f" />
<rect x="555.69" y="315.25" width="8.18" height="7.17" fill="#3030cf" />
<rect x="563.27" y="315.25" width="8.18" height="7.17" fill="#3030cf" />
<rect x="570.86" y="315.25" width="8.18" height="7.17" fill="#3030cf" />
<rect x="578.44" y="315.25" width="8.18" height="7.17" fill="#5050af" />
<rect x="586.02" y="315.25" width="8.18" height="7.17" fill="#5050af" />
<rect x="388.90" y="321.83" width="8.18" height="7.17" fill="#5050af" />
<rect x="396.48" y="321.83" width="8.18" height="7.17" fill="#5050af" />
<rect x="404.06" y="321.83" width="8.18" height="7.17" fill="#808080" />
<rect x="411.64" y="321.83" width="8.18" height="7.17" fill="#4040bf" />
<rect x="419.23" y="321.83" width="8.18" height="7.17" fill="#5050af" />
<rect x="426.81" y="321.83" width="8.18" height="7.17" fill="#808080" />
<rect x="434.39" y="321.83" width="8.18" height="7.17" fill="#60609f" />
<rect x="441.97" y="321.83" width="8.18" height="7.17" fill="#60609f" />
<rect x="449.55" y="321.83" width="8.18" height="7.17" fill="#60609f" />
<rect x="457.13" y="321.83" width="8.18" height="7.17" fill="#60609f" />
<rect x="464.71" y="321.83" width="8.18" height="7.17" fill="#60609f" />
<rect x="472.30" y="321.83" width="8.18" height="7.17" fill="#2020df" />
<rect x="479.88" y="321.83" width="8.18" height="7.17" fill="#3030cf" />
<rect x="487.46" y="321.83" width="8.18" height="7.17" fill="#3030cf" />
<rect x="495.04" y="321.83" width="8.18" height="7.17" fill="#4040bf" />
<rect x="502.62" y="321.83" width="8.18" height="7.17" fill="#60609f" />
<rect x="510.20" y="321.83" width="8.18" height="7.17" fill="#2020df" />
<rect x="517.79" y="321.83" width="8.18" height="7.17" fill="#bfbf40" />
<rect x="525.37" y="321.83" width="8.18" height="7.17" fill="#60609f" />
<rect x="532.95" y="321.83" width="8.18" height="7.17" fill="#60609f" />
<rect x="540.53" y="321.83" width="8.18" height="7.17" fill="#5050af" />
<rect x="548.11" y="321.83" width="8.18" height="7.17" fill="#5050af" />
<rect x="555.69" y="321.83" width="8.18" height="7.17" fill="#4040bf" />
<rect x="563.27" y="321.83" width="8.18" height="7.17" fill="#4040bf" />
<rect x="570.86" y="321.83" width="8.18" height="7.17" fill="#4040bf" />
<rect x="578.44" y="321.83" width="8.18" height="7.17" fill="#5050af" />
<rect x="586.02" y="321.83" width="8.18" height="7.17" fill="#5050af" />
</g>
<clipPath id="hc6"><rect x="603.00" y="203.50" width="13.20" height="124.90"/></clipPath><g clip-path="url(#hc6)">
<rect x="603.00" y="203.50" width="13.80" height="7.17" fill="#ef0010" />
<rect x="603.00" y="210.07" width="13.80" height="7.17" fill="#df0020" />
<rect x="603.00" y="216.65" width="13.80" height="7.17" fill="#df0020" />
<rect x="603.00" y="223.22" width="13.80" height="7.17" fill="#cf0030" />
<rect x="603.00" y="229.79" width="13.80" height="7.17" fill="#cf0030" />
<rect x="603.00" y="236.37" width="13.80" height="7.17" fill="#cf0030" />
<rect x="603.00" y="242.94" width="13.80" height="7.17" fill="#cf0030" />
<rect x="603.00" y="249.52" width="13.80" height="7.17" fill="#af0050" />
<rect x="603.00" y="256.09" width="13.80" height="7.17" fill="#af0050" />
<rect x="603.00" y="262.66" width="13.80" height="7.17" fill="#af0050" />
<rect x="603.00" y="269.24" width="13.80" height="7.17" fill="#9f0060" />
<rect x="603.00" y="275.81" width="13.80" height="7.17" fill="#8f0070" />
<rect x="603.00" y="282.38" width="13.80" height="7.17" fill="#800080" />
<rect x="603.00" y="288.96" width="13.80" height="7.17" fill="#60009f" />
<rect x="603.00" y="295.53" width="13.80" height="7.17" fill="#5000af" />
<rect x="603.00" y="302.11" width="13.80" height="7.17" fill="#4000bf" />
<rect x="603.00" y="308.68" width="13.80" height="7.17" fill="#3000cf" />
<rect x="603.00" y="315.25" width="13.80" height="7.17" fill="#2000df" />
<rect x="603.00" y="321.83" width="13.80" height="7.17" fill="#0000ff" />
</g>
<rect x="388.90" y="203.50" width="227.30" height="124.90" fill="none" stroke="#7a7a7a" stroke-width="1"/>
<text transform="translate(38.18,13.60) scale(0.595,1)" font-size="13.91" fill="#222">1</text>
<text transform="translate(24.93,74.40) scale(0.796,1)" font-size="14.86" fill="#222">0.5</text>
<text transform="translate(34.82,137.40) scale(0.824,1)" font-size="14.57" fill="#222">0</text>
<text transform="translate(14.60,107.93) rotate(-90) scale(0.798,1)" font-size="17.93" fill="#222">mutualism</text>
<line x1="45.50" y1="69.90" x2="54.50" y2="69.90" stroke="rgba(40,40,40,0.75)" stroke-width="1" />
<line x1="257.50" y1="69.90" x2="266.50" y2="69.90" stroke="rgba(40,40,40,0.75)" stroke-width="1" />
<line x1="104.50" y1="123.80" x2="104.50" y2="132.80" stroke="rgba(40,40,40,0.75)" stroke-width="1" />
<line x1="168.90" y1="123.80" x2="168.90" y2="132.80" stroke="rgba(40,40,40,0.75)" stroke-width="1" />
<line x1="231.50" y1="123.80" x2="231.50" y2="132.80" stroke="rgba(40,40,40,0.75)" stroke-width="1" />
<text transform="translate(101.34,146.60) scale(0.868,1)" font-size="13.33" fill="#222">5</text>
<text transform="translate(160.45,146.60) scale(0.946,1)" font-size="13.43" fill="#222">100</text>
<text transform="translate(221.67,146.60) scale(1.011,1)" font-size="13.62" fill="#222">15</text>
<text transform="translate(47.10,170.00) scale(0.792,1)" font-size="17.52" fill="#222">number of contacts of the pollinator</text>
<text transform="translate(37.74,211.40) scale(0.615,1)" font-size="14.20" fill="#222">1</text>
<text transform="translate(25.15,272.80) scale(0.775,1)" font-size="14.57" fill="#222">0.5</text>
<text transform="translate(35.15,335.40) scale(0.780,1)" font-size="14.57" fill="#222">0</text>
<text transform="translate(14.60,303.67) rotate(-90) scale(0.794,1)" font-size="17.93" fill="#222">competition</text>
<line x1="45.50" y1="268.00" x2="54.50" y2="268.00" stroke="rgba(40,40,40,0.75)" stroke-width="1" />
<line x1="257.50" y1="268.00" x2="266.50" y2="268.00" stroke="rgba(40,40,40,0.75)" stroke-width="1" />
<line x1="104.70" y1="321.30" x2="104.70" y2="330.30" stroke="rgba(40,40,40,0.75)" stroke-width="1" />
<line x1="168.90" y1="321.30" x2="168.90" y2="330.30" stroke="rgba(40,40,40,0.75)" stroke-width="1" />
<line x1="231.50" y1="321.30" x2="231.50" y2="330.30" stroke="rgba(40,40,40,0.75)" stroke-width="1" />
<text transform="translate(100.89,344.70) scale(0.958,1)" font-size="13.19" fill="#222">5</text>
<text transform="translate(160.45,344.70) scale(0.978,1)" font-size="13.00" fill="#222">100</text>
<text transform="translate(221.68,344.70) scale(1.029,1)" font-size="13.19" fill="#222">15</text>
<text transform="translate(52.00,363.00) scale(0.788,1)" font-size="17.52" fill="#222">number of contacts of the pollinator</text>
<rect x="282.8" y="10.1" width="4.5" height="121.1" fill="url(#cb)" stroke="#aaa" stroke-width="0.7"/>
<line x1="280.30" y1="10.10" x2="289.80" y2="10.10" stroke="#666" stroke-width="1" />
<line x1="280.30" y1="70.65" x2="289.80" y2="70.65" stroke="#666" stroke-width="1" />
<line x1="280.30" y1="131.20" x2="289.80" y2="131.20" stroke="#666" stroke-width="1" />
<text transform="translate(291.54,15.40) scale(0.798,1)" font-size="14.43" fill="#222">0.04</text>
<text transform="translate(292.24,74.80) scale(0.800,1)" font-size="14.29" fill="#222">0.02</text>
<text transform="translate(292.28,135.30) scale(0.737,1)" font-size="14.29" fill="#222">0</text>
<rect x="282.8" y="208.3" width="4.5" height="121.0" fill="url(#cb)" stroke="#aaa" stroke-width="0.7"/>
<line x1="280.30" y1="208.30" x2="289.80" y2="208.30" stroke="#666" stroke-width="1" />
<line x1="280.30" y1="268.80" x2="289.80" y2="268.80" stroke="#666" stroke-width="1" />
<line x1="280.30" y1="329.30" x2="289.80" y2="329.30" stroke="#666" stroke-width="1" />
<text transform="translate(291.53,213.10) scale(0.826,1)" font-size="14.14" fill="#222">0.04</text>
<text transform="translate(292.24,272.80) scale(0.800,1)" font-size="14.29" fill="#222">0.02</text>
<text transform="translate(292.23,333.30) scale(0.817,1)" font-size="14.43" fill="#222">0</text>
<text transform="translate(380.26,11.50) scale(0.689,1)" font-size="14.35" fill="#222">1</text>
<text transform="translate(367.09,72.00) scale(0.878,1)" font-size="14.43" fill="#222">0.5</text>
<text transform="translate(377.71,135.20) scale(0.838,1)" font-size="14.57" fill="#222">0</text>
<text transform="translate(359.10,99.63) rotate(-90) scale(0.891,1)" font-size="16.00" fill="#222">mutualism</text>
<line x1="389.00" y1="67.60" x2="398.00" y2="67.60" stroke="rgba(40,40,40,0.75)" stroke-width="1" />
<line x1="607.00" y1="67.60" x2="616.00" y2="67.60" stroke="rgba(40,40,40,0.75)" stroke-width="1" />
<line x1="424.60" y1="121.20" x2="424.60" y2="130.20" stroke="rgba(40,40,40,0.75)" stroke-width="1" />
<line x1="460.50" y1="121.20" x2="460.50" y2="130.20" stroke="rgba(40,40,40,0.75)" stroke-width="1" />
<line x1="496.30" y1="121.20" x2="496.30" y2="130.20" stroke="rgba(40,40,40,0.75)" stroke-width="1" />
<line x1="532.40" y1="121.20" x2="532.40" y2="130.20" stroke="rgba(40,40,40,0.75)" stroke-width="1" />
<line x1="568.50" y1="121.20" x2="568.50" y2="130.20" stroke="rgba(40,40,40,0.75)" stroke-width="1" />
<line x1="608.50" y1="121.20" x2="608.50" y2="130.20" stroke="rgba(40,40,40,0.75)" stroke-width="1" />
<text transform="translate(385.82,144.70) scale(0.816,1)" font-size="14.71" fill="#222">0</text>
<text transform="translate(422.12,144.70) scale(0.804,1)" font-size="14.93" fill="#222">5</text>
<text transform="translate(453.19,144.70) scale(0.631,1)" font-size="14.93" fill="#222">1</text>
<text transform="translate(461.41,144.70) scale(0.830,1)" font-size="14.71" fill="#222">0</text>
<text transform="translate(489.48,144.70) scale(0.554,1)" font-size="14.93" fill="#222">1</text>
<text transform="translate(497.34,144.70) scale(0.776,1)" font-size="14.93" fill="#222">5</text>
<text transform="translate(526.30,144.70) scale(0.822,1)" font-size="14.71" fill="#222">2</text>
<text transform="translate(534.65,144.70) scale(0.773,1)" font-size="14.71" fill="#222">0</text>
<text transform="translate(561.55,144.70) scale(0.747,1)" font-size="14.71" fill="#222">2</text>
<text transform="translate(569.88,144.70) scale(0.705,1)" font-size="14.93" fill="#222">5</text>
<text transform="translate(601.62,144.70) scale(0.723,1)" font-size="14.71" fill="#222">8</text>
<text transform="translate(610.16,144.70) scale(0.739,1)" font-size="14.71" fill="#222">6</text>
<text transform="translate(400.91,166.00) scale(0.780,1)" font-size="17.52" fill="#222">number of contacts of the plant</text>
<line x1="598.00" y1="13.30" x2="598.00" y2="125.70" stroke="#707070" stroke-width="1.3" stroke-dasharray="1.5,1.75"/>
<line x1="597.80" y1="133.30" x2="597.80" y2="147.00" stroke="#707070" stroke-width="1.3" stroke-dasharray="1.3,1.1"/>
<text transform="translate(380.34,209.60) scale(0.684,1)" font-size="14.78" fill="#222">1</text>
<text transform="translate(367.62,269.90) scale(0.825,1)" font-size="14.43" fill="#222">0.5</text>
<text transform="translate(377.35,333.50) scale(0.930,1)" font-size="14.71" fill="#222">0</text>
<text transform="translate(359.10,301.87) rotate(-90) scale(0.892,1)" font-size="16.00" fill="#222">competition</text>
<line x1="389.00" y1="265.50" x2="398.00" y2="265.50" stroke="rgba(40,40,40,0.75)" stroke-width="1" />
<line x1="607.00" y1="265.50" x2="616.00" y2="265.50" stroke="rgba(40,40,40,0.75)" stroke-width="1" />
<line x1="424.60" y1="318.90" x2="424.60" y2="327.90" stroke="rgba(40,40,40,0.75)" stroke-width="1" />
<line x1="460.50" y1="318.90" x2="460.50" y2="327.90" stroke="rgba(40,40,40,0.75)" stroke-width="1" />
<line x1="496.30" y1="318.90" x2="496.30" y2="327.90" stroke="rgba(40,40,40,0.75)" stroke-width="1" />
<line x1="532.40" y1="318.90" x2="532.40" y2="327.90" stroke="rgba(40,40,40,0.75)" stroke-width="1" />
<line x1="568.50" y1="318.90" x2="568.50" y2="327.90" stroke="rgba(40,40,40,0.75)" stroke-width="1" />
<line x1="608.50" y1="318.90" x2="608.50" y2="327.90" stroke="rgba(40,40,40,0.75)" stroke-width="1" />
<text transform="translate(385.82,342.80) scale(0.848,1)" font-size="14.14" fill="#222">0</text>
<text transform="translate(422.12,342.80) scale(0.836,1)" font-size="14.35" fill="#222">5</text>
<text transform="translate(453.19,342.80) scale(0.657,1)" font-size="14.35" fill="#222">1</text>
<text transform="translate(461.41,342.80) scale(0.863,1)" font-size="14.14" fill="#222">0</text>
<text transform="translate(489.48,342.80) scale(0.577,1)" font-size="14.35" fill="#222">1</text>
<text transform="translate(497.34,342.80) scale(0.807,1)" font-size="14.35" fill="#222">5</text>
<text transform="translate(526.30,342.80) scale(0.855,1)" font-size="14.14" fill="#222">2</text>
<text transform="translate(534.65,342.80) scale(0.804,1)" font-size="14.14" fill="#222">0</text>
<text transform="translate(561.55,342.80) scale(0.777,1)" font-size="14.14" fill="#222">2</text>
<text transform="translate(569.88,342.80) scale(0.734,1)" font-size="14.35" fill="#222">5</text>
<text transform="translate(601.62,342.80) scale(0.752,1)" font-size="14.14" fill="#222">8</text>
<text transform="translate(610.16,342.80) scale(0.769,1)" font-size="14.14" fill="#222">6</text>
<text transform="translate(400.91,363.00) scale(0.774,1)" font-size="17.66" fill="#222">number of contacts of the plant</text>
<line x1="598.00" y1="211.50" x2="598.00" y2="323.40" stroke="#707070" stroke-width="1.3" stroke-dasharray="1.5,1.75"/>
<line x1="596.60" y1="331.30" x2="596.60" y2="347.90" stroke="#8a8a8a" stroke-width="0.9" stroke-dasharray="1.5,1.8"/>
<rect x="625.9" y="8.5" width="4.399999999999977" height="120.80000000000001" fill="url(#cb)" stroke="#aaa" stroke-width="0.7"/>
<line x1="623.40" y1="8.50" x2="632.80" y2="8.50" stroke="#666" stroke-width="1" />
<line x1="623.40" y1="68.90" x2="632.80" y2="68.90" stroke="#666" stroke-width="1" />
<line x1="623.40" y1="129.30" x2="632.80" y2="129.30" stroke="#666" stroke-width="1" />
<text transform="translate(634.31,13.30) scale(0.831,1)" font-size="14.71" fill="#222">0.10</text>
<text transform="translate(635.63,72.80) scale(0.805,1)" font-size="14.71" fill="#222">0.05</text>
<text transform="translate(635.40,133.70) scale(0.836,1)" font-size="14.86" fill="#222">0</text>
<rect x="625.9" y="206.4" width="4.399999999999977" height="120.9" fill="url(#cb)" stroke="#aaa" stroke-width="0.7"/>
<line x1="623.40" y1="206.40" x2="632.80" y2="206.40" stroke="#666" stroke-width="1" />
<line x1="623.40" y1="266.85" x2="632.80" y2="266.85" stroke="#666" stroke-width="1" />
<line x1="623.40" y1="327.30" x2="632.80" y2="327.30" stroke="#666" stroke-width="1" />
<text transform="translate(634.31,211.40) scale(0.831,1)" font-size="14.71" fill="#222">0.10</text>
<text transform="translate(635.63,271.10) scale(0.805,1)" font-size="14.71" fill="#222">0.05</text>
<text transform="translate(635.39,331.60) scale(0.856,1)" font-size="15.00" fill="#222">0</text>
</svg></body></html>
